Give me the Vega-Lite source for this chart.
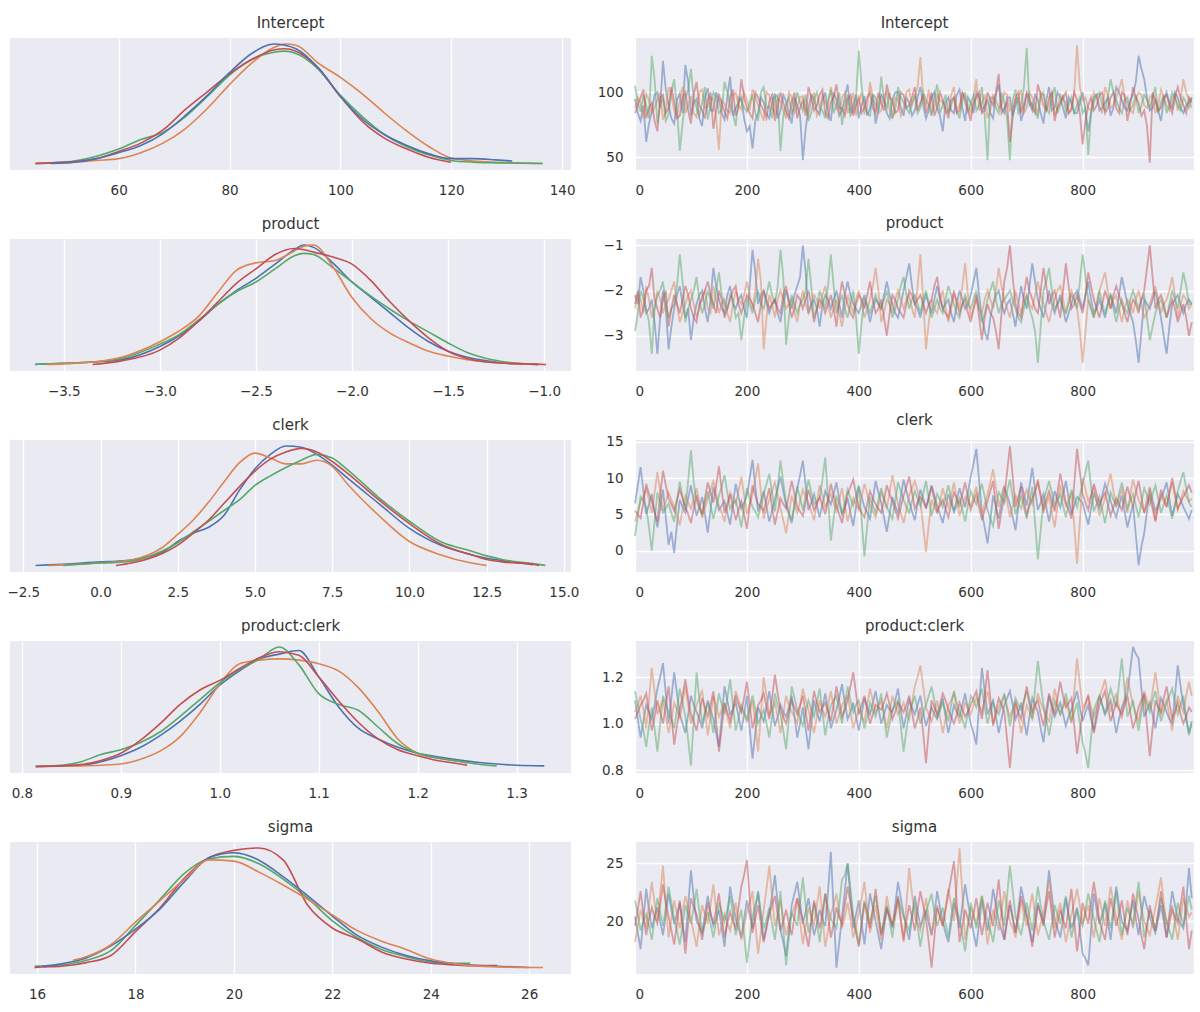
{
  "$schema": "https://vega.github.io/schema/vega-lite/v6.json",
  "background": "white",
  "padding": {"left": 6, "top": 16, "right": 5, "bottom": 5},
  "columns": 2,
  "bounds": "flush",
  "spacing": {"row": 69, "column": 64},
  "datasets": {
    "kde": [
      {"p":"I","x":45,"b":0,"c":0,"d":0},
      {"p":"I","x":47.8,"a":0,"b":0.003,"c":0.005,"d":0.005},
      {"p":"I","x":52,"a":0.01,"b":0.01,"c":0.02,"d":0.015},
      {"p":"I","x":56,"a":0.04,"b":0.025,"c":0.06,"d":0.04},
      {"p":"I","x":60,"a":0.09,"b":0.04,"c":0.12,"d":0.10},
      {"p":"I","x":64,"a":0.15,"b":0.09,"c":0.20,"d":0.17},
      {"p":"I","x":68,"a":0.25,"b":0.17,"c":0.26,"d":0.28},
      {"p":"I","x":72,"a":0.40,"b":0.29,"c":0.39,"d":0.45},
      {"p":"I","x":76,"a":0.57,"b":0.46,"c":0.56,"d":0.60},
      {"p":"I","x":80,"a":0.76,"b":0.66,"c":0.74,"d":0.75},
      {"p":"I","x":84,"a":0.92,"b":0.84,"c":0.87,"d":0.87},
      {"p":"I","x":88,"a":1.0,"b":0.97,"c":0.93,"d":0.95},
      {"p":"I","x":90,"a":0.99,"b":1.0,"c":0.94,"d":0.96},
      {"p":"I","x":92,"a":0.96,"b":0.99,"c":0.92,"d":0.94},
      {"p":"I","x":96,"a":0.80,"b":0.84,"c":0.79,"d":0.80},
      {"p":"I","x":100,"a":0.56,"b":0.72,"c":0.57,"d":0.56},
      {"p":"I","x":104,"a":0.37,"b":0.58,"c":0.39,"d":0.35},
      {"p":"I","x":108,"a":0.24,"b":0.42,"c":0.24,"d":0.21},
      {"p":"I","x":112,"a":0.15,"b":0.27,"c":0.14,"d":0.12},
      {"p":"I","x":116,"a":0.08,"b":0.14,"c":0.07,"d":0.05},
      {"p":"I","x":120,"a":0.04,"b":0.045,"c":0.025,"d":0.01},
      {"p":"I","x":124,"a":0.04,"b":0.02,"c":0.01},
      {"p":"I","x":128,"a":0.03,"b":0.01,"c":0.005},
      {"p":"I","x":131,"a":0.02,"b":0.005,"c":0.003},
      {"p":"I","x":136.5,"b":0,"c":0},
      {"p":"P","x":-3.65,"a":0,"c":0},
      {"p":"P","x":-3.59,"a":0.005,"b":0,"c":0.005},
      {"p":"P","x":-3.5,"a":0.01,"b":0.005,"c":0.01},
      {"p":"P","x":-3.35,"a":0.02,"b":0.02,"c":0.02,"d":0},
      {"p":"P","x":-3.2,"a":0.04,"b":0.06,"c":0.05,"d":0.03},
      {"p":"P","x":-3.0,"a":0.15,"b":0.19,"c":0.17,"d":0.12},
      {"p":"P","x":-2.9,"a":0.24,"b":0.28,"c":0.25,"d":0.22},
      {"p":"P","x":-2.8,"a":0.36,"b":0.40,"c":0.37,"d":0.36},
      {"p":"P","x":-2.7,"a":0.50,"b":0.60,"c":0.50,"d":0.52},
      {"p":"P","x":-2.6,"a":0.62,"b":0.79,"c":0.61,"d":0.68},
      {"p":"P","x":-2.5,"a":0.72,"b":0.85,"c":0.69,"d":0.80},
      {"p":"P","x":-2.4,"a":0.84,"b":0.87,"c":0.80,"d":0.92},
      {"p":"P","x":-2.3,"a":0.96,"b":0.95,"c":0.91,"d":0.97},
      {"p":"P","x":-2.25,"a":1.0,"b":0.99,"c":0.93,"d":0.96},
      {"p":"P","x":-2.2,"a":0.98,"b":1.0,"c":0.92,"d":0.94},
      {"p":"P","x":-2.1,"a":0.85,"b":0.82,"c":0.81,"d":0.90},
      {"p":"P","x":-2.0,"a":0.69,"b":0.56,"c":0.69,"d":0.84},
      {"p":"P","x":-1.9,"a":0.56,"b":0.38,"c":0.57,"d":0.70},
      {"p":"P","x":-1.8,"a":0.43,"b":0.26,"c":0.46,"d":0.52},
      {"p":"P","x":-1.7,"a":0.30,"b":0.18,"c":0.36,"d":0.36},
      {"p":"P","x":-1.6,"a":0.19,"b":0.11,"c":0.27,"d":0.22},
      {"p":"P","x":-1.5,"a":0.11,"b":0.07,"c":0.18,"d":0.11},
      {"p":"P","x":-1.4,"a":0.06,"b":0.04,"c":0.10,"d":0.05},
      {"p":"P","x":-1.3,"a":0.03,"b":0.02,"c":0.05,"d":0.02},
      {"p":"P","x":-1.2,"a":0.01,"b":0.01,"c":0.02,"d":0.01},
      {"p":"P","x":-1.03,"a":0,"b":0,"c":0},
      {"p":"P","x":-0.99,"d":0},
      {"p":"C","x":-2.1,"a":0},
      {"p":"C","x":-1.7,"a":0.005,"b":0},
      {"p":"C","x":-1.2,"a":0.01,"b":0.005,"c":0},
      {"p":"C","x":0,"a":0.03,"b":0.02,"c":0.02},
      {"p":"C","x":0.5,"a":0.035,"b":0.03,"c":0.025,"d":0},
      {"p":"C","x":1,"a":0.045,"b":0.045,"c":0.035,"d":0.02},
      {"p":"C","x":2,"a":0.11,"b":0.15,"c":0.12,"d":0.10},
      {"p":"C","x":2.5,"a":0.20,"b":0.26,"c":0.19,"d":0.17},
      {"p":"C","x":3,"a":0.27,"b":0.38,"c":0.28,"d":0.27},
      {"p":"C","x":3.5,"a":0.32,"b":0.53,"c":0.37,"d":0.38},
      {"p":"C","x":4,"a":0.42,"b":0.70,"c":0.46,"d":0.52},
      {"p":"C","x":4.5,"a":0.63,"b":0.86,"c":0.55,"d":0.66},
      {"p":"C","x":5,"a":0.81,"b":0.94,"c":0.67,"d":0.79},
      {"p":"C","x":5.5,"a":0.93,"b":0.90,"c":0.75,"d":0.89},
      {"p":"C","x":6,"a":1.0,"b":0.85,"c":0.82,"d":0.95},
      {"p":"C","x":6.5,"a":0.99,"b":0.85,"c":0.88,"d":0.98},
      {"p":"C","x":7,"a":0.93,"b":0.88,"c":0.93,"d":0.95},
      {"p":"C","x":7.5,"a":0.84,"b":0.83,"c":0.90,"d":0.87},
      {"p":"C","x":8,"a":0.73,"b":0.68,"c":0.80,"d":0.77},
      {"p":"C","x":9,"a":0.52,"b":0.42,"c":0.57,"d":0.55},
      {"p":"C","x":10,"a":0.31,"b":0.20,"c":0.37,"d":0.35},
      {"p":"C","x":11,"a":0.17,"b":0.09,"c":0.20,"d":0.18},
      {"p":"C","x":12,"a":0.09,"b":0.02,"c":0.12,"d":0.09},
      {"p":"C","x":12.5,"a":0.06,"b":0,"c":0.08,"d":0.05},
      {"p":"C","x":13,"a":0.04,"c":0.05,"d":0.03},
      {"p":"C","x":14,"a":0.005,"c":0.015,"d":0.01},
      {"p":"C","x":14.2,"d":0},
      {"p":"C","x":14.4,"c":0},
      {"p":"PC","x":0.814,"a":0,"b":0,"c":0,"d":0},
      {"p":"PC","x":0.84,"a":0.005,"b":0.003,"c":0.01,"d":0.005},
      {"p":"PC","x":0.86,"a":0.01,"b":0.005,"c":0.04,"d":0.015},
      {"p":"PC","x":0.88,"a":0.04,"b":0.01,"c":0.10,"d":0.05},
      {"p":"PC","x":0.9,"a":0.09,"b":0.02,"c":0.14,"d":0.11},
      {"p":"PC","x":0.92,"a":0.16,"b":0.06,"c":0.20,"d":0.22},
      {"p":"PC","x":0.94,"a":0.26,"b":0.13,"c":0.29,"d":0.36},
      {"p":"PC","x":0.96,"a":0.38,"b":0.25,"c":0.42,"d":0.52},
      {"p":"PC","x":0.98,"a":0.52,"b":0.45,"c":0.56,"d":0.64},
      {"p":"PC","x":1.0,"a":0.68,"b":0.69,"c":0.70,"d":0.72},
      {"p":"PC","x":1.02,"a":0.80,"b":0.86,"c":0.81,"d":0.82},
      {"p":"PC","x":1.04,"a":0.90,"b":0.89,"c":0.90,"d":0.91},
      {"p":"PC","x":1.06,"a":0.94,"b":0.90,"c":1.0,"d":0.96},
      {"p":"PC","x":1.08,"a":0.97,"b":0.89,"c":0.85,"d":0.93},
      {"p":"PC","x":1.1,"a":0.75,"b":0.86,"c":0.61,"d":0.75},
      {"p":"PC","x":1.12,"a":0.50,"b":0.80,"c":0.52,"d":0.55},
      {"p":"PC","x":1.14,"a":0.32,"b":0.66,"c":0.47,"d":0.37},
      {"p":"PC","x":1.16,"a":0.23,"b":0.46,"c":0.33,"d":0.23},
      {"p":"PC","x":1.18,"a":0.16,"b":0.23,"c":0.19,"d":0.14},
      {"p":"PC","x":1.2,"a":0.11,"b":0.11,"c":0.11,"d":0.09},
      {"p":"PC","x":1.22,"a":0.08,"b":0.07,"c":0.07,"d":0.05},
      {"p":"PC","x":1.24,"a":0.055,"b":0.045,"c":0.045,"d":0.025},
      {"p":"PC","x":1.25,"b":0.03,"d":0.01},
      {"p":"PC","x":1.26,"a":0.035,"c":0.02},
      {"p":"PC","x":1.28,"a":0.02,"c":0.003},
      {"p":"PC","x":1.3,"a":0.01},
      {"p":"PC","x":1.328,"a":0.005},
      {"p":"S","x":15.95,"c":0.01,"d":0},
      {"p":"S","x":16.1,"a":0.01,"c":0.012,"d":0.003},
      {"p":"S","x":16.5,"a":0.03,"c":0.02,"d":0.01},
      {"p":"S","x":16.73,"a":0.05,"b":0.06,"c":0.035,"d":0.02},
      {"p":"S","x":17,"a":0.08,"b":0.09,"c":0.06,"d":0.04},
      {"p":"S","x":17.5,"a":0.18,"b":0.19,"c":0.14,"d":0.10},
      {"p":"S","x":18,"a":0.32,"b":0.38,"c":0.35,"d":0.30},
      {"p":"S","x":18.5,"a":0.49,"b":0.56,"c":0.57,"d":0.50},
      {"p":"S","x":19,"a":0.72,"b":0.74,"c":0.79,"d":0.75},
      {"p":"S","x":19.5,"a":0.92,"b":0.90,"c":0.91,"d":0.92},
      {"p":"S","x":20,"a":0.96,"b":0.89,"c":0.93,"d":0.98},
      {"p":"S","x":20.5,"a":0.90,"b":0.80,"c":0.87,"d":1.0},
      {"p":"S","x":21,"a":0.76,"b":0.69,"c":0.74,"d":0.90},
      {"p":"S","x":21.5,"a":0.60,"b":0.57,"c":0.58,"d":0.52},
      {"p":"S","x":22,"a":0.43,"b":0.44,"c":0.39,"d":0.33},
      {"p":"S","x":22.5,"a":0.27,"b":0.31,"c":0.25,"d":0.24},
      {"p":"S","x":23,"a":0.17,"b":0.22,"c":0.15,"d":0.13},
      {"p":"S","x":23.5,"a":0.10,"b":0.15,"c":0.09,"d":0.07},
      {"p":"S","x":24,"a":0.055,"b":0.07,"c":0.045,"d":0.035},
      {"p":"S","x":24.5,"a":0.03,"b":0.03,"c":0.035,"d":0.02},
      {"p":"S","x":24.8,"a":0.02,"b":0.015,"c":0.035,"d":0.015},
      {"p":"S","x":25.35,"a":0.01,"b":0.005,"d":0.015},
      {"p":"S","x":26,"a":0.0,"b":0},
      {"p":"S","x":26.28,"b":0}
    ],
    "trace": [
      {"p":"I","x":0,"a":95,"b":88,"c":105,"d":84},{"p":"I","x":10,"a":78,"b":92,"c":85,"d":96},{"p":"I","x":20,"a":62,"b":99,"c":90,"d":80},{"p":"I","x":30,"a":85,"b":84,"c":128,"d":92},{"p":"I","x":40,"a":100,"b":94,"c":76,"d":70},
      {"p":"I","x":50,"a":124,"b":79,"c":96,"d":98},{"p":"I","x":60,"a":90,"b":104,"c":83,"d":88},{"p":"I","x":70,"a":76,"b":86,"c":110,"d":93},{"p":"I","x":80,"a":99,"b":93,"c":55,"d":82},{"p":"I","x":90,"a":121,"b":84,"c":95,"d":100},
      {"p":"I","x":100,"a":82,"b":97,"c":118,"d":76},{"p":"I","x":110,"a":95,"b":81,"c":88,"d":108},{"p":"I","x":120,"a":74,"b":102,"c":92,"d":86},{"p":"I","x":130,"a":103,"b":89,"c":79,"d":94},{"p":"I","x":140,"a":86,"b":95,"c":100,"d":72},
      {"p":"I","x":150,"a":94,"b":56,"c":84,"d":98},{"p":"I","x":160,"a":79,"b":91,"c":108,"d":85},{"p":"I","x":170,"a":112,"b":84,"c":90,"d":96},{"p":"I","x":180,"a":88,"b":100,"c":74,"d":82},{"p":"I","x":190,"a":96,"b":87,"c":94,"d":110},
      {"p":"I","x":200,"a":70,"b":94,"c":85,"d":88},{"p":"I","x":210,"a":57,"b":102,"c":98,"d":80},{"p":"I","x":220,"a":84,"b":90,"c":78,"d":96},{"p":"I","x":230,"a":92,"b":78,"c":104,"d":86},{"p":"I","x":240,"a":80,"b":98,"c":89,"d":93},
      {"p":"I","x":250,"a":99,"b":84,"c":96,"d":78},{"p":"I","x":260,"a":86,"b":93,"c":55,"d":100},{"p":"I","x":270,"a":93,"b":80,"c":91,"d":85},{"p":"I","x":280,"a":76,"b":96,"c":84,"d":92},{"p":"I","x":290,"a":90,"b":88,"c":100,"d":80},
      {"p":"I","x":300,"a":48,"b":97,"c":86,"d":94},{"p":"I","x":310,"a":88,"b":82,"c":78,"d":104},{"p":"I","x":320,"a":95,"b":100,"c":95,"d":86},{"p":"I","x":330,"a":83,"b":86,"c":88,"d":98},{"p":"I","x":340,"a":100,"b":92,"c":80,"d":84},
      {"p":"I","x":350,"a":78,"b":104,"c":102,"d":92},{"p":"I","x":360,"a":94,"b":88,"c":90,"d":106},{"p":"I","x":370,"a":86,"b":96,"c":75,"d":88},{"p":"I","x":380,"a":106,"b":84,"c":98,"d":94},{"p":"I","x":390,"a":90,"b":100,"c":86,"d":82},
      {"p":"I","x":400,"a":80,"b":92,"c":132,"d":96},{"p":"I","x":410,"a":97,"b":84,"c":90,"d":88},{"p":"I","x":420,"a":88,"b":108,"c":82,"d":100},{"p":"I","x":430,"a":76,"b":90,"c":96,"d":84},{"p":"I","x":440,"a":98,"b":86,"c":112,"d":92},
      {"p":"I","x":450,"a":84,"b":100,"c":88,"d":106},{"p":"I","x":460,"a":94,"b":80,"c":80,"d":94},{"p":"I","x":470,"a":100,"b":94,"c":104,"d":86},{"p":"I","x":480,"a":82,"b":88,"c":92,"d":98},{"p":"I","x":490,"a":92,"b":102,"c":84,"d":90},
      {"p":"I","x":500,"a":86,"b":96,"c":98,"d":104},{"p":"I","x":510,"a":104,"b":127,"c":88,"d":92},{"p":"I","x":520,"a":80,"b":90,"c":94,"d":84},{"p":"I","x":530,"a":96,"b":84,"c":82,"d":100},{"p":"I","x":540,"a":88,"b":98,"c":106,"d":88},
      {"p":"I","x":550,"a":70,"b":92,"c":90,"d":94},{"p":"I","x":560,"a":96,"b":86,"c":84,"d":80},{"p":"I","x":570,"a":84,"b":104,"c":96,"d":96},{"p":"I","x":580,"a":102,"b":90,"c":80,"d":86},{"p":"I","x":590,"a":78,"b":96,"c":100,"d":92},
      {"p":"I","x":600,"a":92,"b":84,"c":92,"d":78},{"p":"I","x":610,"a":100,"b":110,"c":86,"d":96},{"p":"I","x":620,"a":86,"b":92,"c":104,"d":84},{"p":"I","x":630,"a":94,"b":80,"c":48,"d":100},{"p":"I","x":640,"a":80,"b":98,"c":96,"d":90},
      {"p":"I","x":650,"a":106,"b":88,"c":84,"d":114},{"p":"I","x":660,"a":84,"b":100,"c":92,"d":88},{"p":"I","x":670,"a":96,"b":86,"c":48,"d":62},{"p":"I","x":680,"a":90,"b":94,"c":102,"d":96},{"p":"I","x":690,"a":78,"b":102,"c":88,"d":84},
      {"p":"I","x":700,"a":98,"b":88,"c":134,"d":100},{"p":"I","x":710,"a":86,"b":96,"c":92,"d":88},{"p":"I","x":720,"a":94,"b":84,"c":80,"d":106},{"p":"I","x":730,"a":76,"b":100,"c":98,"d":90},{"p":"I","x":740,"a":104,"b":90,"c":84,"d":96},
      {"p":"I","x":750,"a":88,"b":82,"c":104,"d":78},{"p":"I","x":760,"a":96,"b":98,"c":90,"d":92},{"p":"I","x":770,"a":80,"b":92,"c":86,"d":100},{"p":"I","x":780,"a":92,"b":86,"c":96,"d":88},{"p":"I","x":790,"a":84,"b":136,"c":90,"d":94},
      {"p":"I","x":800,"a":100,"b":94,"c":84,"d":60},{"p":"I","x":810,"a":70,"b":88,"c":52,"d":90},{"p":"I","x":820,"a":96,"b":100,"c":92,"d":86},{"p":"I","x":830,"a":86,"b":90,"c":100,"d":98},{"p":"I","x":840,"a":92,"b":104,"c":86,"d":84},
      {"p":"I","x":850,"a":82,"b":88,"c":110,"d":96},{"p":"I","x":860,"a":104,"b":96,"c":94,"d":88},{"p":"I","x":870,"a":94,"b":110,"c":84,"d":100},{"p":"I","x":880,"a":86,"b":92,"c":96,"d":78},{"p":"I","x":890,"a":98,"b":84,"c":90,"d":104},
      {"p":"I","x":900,"a":128,"b":100,"c":84,"d":92},{"p":"I","x":910,"a":110,"b":90,"c":98,"d":86},{"p":"I","x":920,"a":86,"b":96,"c":88,"d":46},{"p":"I","x":930,"a":94,"b":84,"c":104,"d":94},{"p":"I","x":940,"a":78,"b":102,"c":92,"d":88},
      {"p":"I","x":950,"a":100,"b":90,"c":84,"d":98},{"p":"I","x":960,"a":88,"b":96,"c":100,"d":84},{"p":"I","x":970,"a":96,"b":86,"c":90,"d":104},{"p":"I","x":980,"a":84,"b":110,"c":96,"d":90},{"p":"I","x":990,"a":92,"b":94,"c":88,"d":96},
      {"p":"I","x":5,"a":84,"b":96,"c":92,"d":90},{"p":"I","x":15,"a":90,"b":80,"c":98,"d":102},{"p":"I","x":25,"a":76,"b":94,"c":80,"d":88},{"p":"I","x":35,"a":98,"b":88,"c":110,"d":78},{"p":"I","x":45,"a":88,"b":100,"c":90,"d":96},
      {"p":"I","x":55,"a":102,"b":86,"c":78,"d":84},{"p":"I","x":65,"a":80,"b":98,"c":100,"d":104},{"p":"I","x":75,"a":94,"b":82,"c":88,"d":80},{"p":"I","x":85,"a":84,"b":104,"c":76,"d":96},{"p":"I","x":95,"a":108,"b":90,"c":102,"d":86},
      {"p":"I","x":105,"a":92,"b":84,"c":94,"d":98},{"p":"I","x":115,"a":80,"b":100,"c":82,"d":90},{"p":"I","x":125,"a":96,"b":88,"c":104,"d":80},{"p":"I","x":135,"a":86,"b":96,"c":90,"d":100},{"p":"I","x":145,"a":100,"b":80,"c":96,"d":86},
      {"p":"I","x":155,"a":84,"b":94,"c":86,"d":92},{"p":"I","x":165,"a":96,"b":86,"c":100,"d":80},{"p":"I","x":175,"a":82,"b":98,"c":84,"d":102},{"p":"I","x":185,"a":92,"b":90,"c":96,"d":88},{"p":"I","x":195,"a":80,"b":100,"c":88,"d":96},
      {"p":"I","x":205,"a":74,"b":86,"c":92,"d":84},{"p":"I","x":215,"a":78,"b":96,"c":84,"d":100},{"p":"I","x":225,"a":96,"b":84,"c":100,"d":90},{"p":"I","x":235,"a":84,"b":100,"c":88,"d":80},{"p":"I","x":245,"a":92,"b":88,"c":80,"d":98},
      {"p":"I","x":255,"a":80,"b":96,"c":98,"d":88},{"p":"I","x":265,"a":98,"b":86,"c":82,"d":92},{"p":"I","x":275,"a":84,"b":100,"c":96,"d":80},{"p":"I","x":285,"a":96,"b":84,"c":88,"d":100},{"p":"I","x":295,"a":82,"b":96,"c":92,"d":88},
      {"p":"I","x":305,"a":72,"b":88,"c":98,"d":82},{"p":"I","x":315,"a":98,"b":94,"c":84,"d":96},{"p":"I","x":325,"a":86,"b":82,"c":100,"d":90},{"p":"I","x":335,"a":94,"b":98,"c":86,"d":102},{"p":"I","x":345,"a":84,"b":88,"c":94,"d":80},
      {"p":"I","x":355,"a":100,"b":94,"c":84,"d":96},{"p":"I","x":365,"a":82,"b":84,"c":100,"d":88},{"p":"I","x":375,"a":96,"b":100,"c":90,"d":82},{"p":"I","x":385,"a":84,"b":90,"c":82,"d":98},{"p":"I","x":395,"a":98,"b":82,"c":96,"d":90},
      {"p":"I","x":405,"a":90,"b":100,"c":104,"d":84},{"p":"I","x":415,"a":82,"b":88,"c":84,"d":96},{"p":"I","x":425,"a":98,"b":96,"c":98,"d":88},{"p":"I","x":435,"a":86,"b":84,"c":86,"d":100},{"p":"I","x":445,"a":94,"b":98,"c":94,"d":86},
      {"p":"I","x":455,"a":80,"b":86,"c":100,"d":96},{"p":"I","x":465,"a":100,"b":96,"c":86,"d":84},{"p":"I","x":475,"a":88,"b":82,"c":96,"d":100},{"p":"I","x":485,"a":96,"b":100,"c":88,"d":88},{"p":"I","x":495,"a":82,"b":90,"c":92,"d":96},
      {"p":"I","x":505,"a":96,"b":104,"c":84,"d":86},{"p":"I","x":515,"a":90,"b":96,"c":100,"d":98},{"p":"I","x":525,"a":86,"b":102,"c":90,"d":90},{"p":"I","x":535,"a":100,"b":88,"c":96,"d":82},{"p":"I","x":545,"a":82,"b":94,"c":84,"d":100},
      {"p":"I","x":555,"a":92,"b":84,"c":98,"d":88},{"p":"I","x":565,"a":86,"b":98,"c":90,"d":94},{"p":"I","x":575,"a":98,"b":86,"c":86,"d":84},{"p":"I","x":585,"a":88,"b":100,"c":94,"d":100},{"p":"I","x":595,"a":96,"b":90,"c":84,"d":86},
      {"p":"I","x":605,"a":84,"b":96,"c":98,"d":92},{"p":"I","x":615,"a":96,"b":86,"c":90,"d":100},{"p":"I","x":625,"a":90,"b":98,"c":82,"d":86},{"p":"I","x":635,"a":84,"b":86,"c":96,"d":94},{"p":"I","x":645,"a":98,"b":94,"c":88,"d":100},
      {"p":"I","x":655,"a":88,"b":90,"c":100,"d":84},{"p":"I","x":665,"a":96,"b":98,"c":80,"d":92},{"p":"I","x":675,"a":82,"b":88,"c":94,"d":80},{"p":"I","x":685,"a":96,"b":96,"c":84,"d":100},{"p":"I","x":695,"a":86,"b":84,"c":104,"d":90},
      {"p":"I","x":705,"a":92,"b":100,"c":90,"d":96},{"p":"I","x":715,"a":98,"b":90,"c":86,"d":84},{"p":"I","x":725,"a":84,"b":96,"c":100,"d":98},{"p":"I","x":735,"a":94,"b":86,"c":88,"d":86},{"p":"I","x":745,"a":86,"b":100,"c":96,"d":100},
      {"p":"I","x":755,"a":100,"b":88,"c":84,"d":88},{"p":"I","x":765,"a":88,"b":94,"c":98,"d":96},{"p":"I","x":775,"a":96,"b":84,"c":90,"d":84},{"p":"I","x":785,"a":84,"b":100,"c":84,"d":100},{"p":"I","x":795,"a":92,"b":104,"c":96,"d":84},
      {"p":"I","x":805,"a":86,"b":96,"c":88,"d":78},{"p":"I","x":815,"a":84,"b":86,"c":84,"d":96},{"p":"I","x":825,"a":98,"b":96,"c":98,"d":90},{"p":"I","x":835,"a":88,"b":84,"c":90,"d":100},{"p":"I","x":845,"a":96,"b":98,"c":96,"d":88},
      {"p":"I","x":855,"a":88,"b":90,"c":100,"d":100},{"p":"I","x":865,"a":100,"b":102,"c":88,"d":84},{"p":"I","x":875,"a":88,"b":96,"c":94,"d":98},{"p":"I","x":885,"a":94,"b":86,"c":86,"d":90},{"p":"I","x":895,"a":108,"b":94,"c":98,"d":96},
      {"p":"I","x":905,"a":118,"b":98,"c":90,"d":82},{"p":"I","x":915,"a":96,"b":88,"c":94,"d":74},{"p":"I","x":925,"a":88,"b":98,"c":96,"d":100},{"p":"I","x":935,"a":86,"b":90,"c":84,"d":86},{"p":"I","x":945,"a":94,"b":96,"c":98,"d":96},
      {"p":"I","x":955,"a":92,"b":86,"c":90,"d":90},{"p":"I","x":965,"a":100,"b":98,"c":96,"d":96},{"p":"I","x":975,"a":88,"b":94,"c":86,"d":96},{"p":"I","x":985,"a":90,"b":100,"c":92,"d":84},{"p":"I","x":995,"a":96,"b":88,"c":96,"d":92},

      {"p":"P","x":0,"a":-2.1,"b":-2.4,"c":-2.9,"d":-2.3},{"p":"P","x":10,"a":-1.7,"b":-2.2,"c":-2.0,"d":-2.6},{"p":"P","x":20,"a":-2.5,"b":-1.9,"c":-2.4,"d":-2.0},{"p":"P","x":30,"a":-2.2,"b":-2.6,"c":-3.4,"d":-1.5},{"p":"P","x":40,"a":-3.4,"b":-2.0,"c":-2.1,"d":-2.4},
      {"p":"P","x":50,"a":-2.0,"b":-2.5,"c":-1.8,"d":-2.2},{"p":"P","x":60,"a":-3.3,"b":-2.2,"c":-2.6,"d":-2.8},{"p":"P","x":70,"a":-2.4,"b":-1.8,"c":-2.3,"d":-2.1},{"p":"P","x":80,"a":-1.9,"b":-2.7,"c":-1.2,"d":-2.5},{"p":"P","x":90,"a":-2.6,"b":-2.3,"c":-2.7,"d":-1.9},
      {"p":"P","x":100,"a":-3.1,"b":-2.0,"c":-2.2,"d":-2.4},{"p":"P","x":110,"a":-2.3,"b":-2.6,"c":-1.7,"d":-2.7},{"p":"P","x":120,"a":-2.0,"b":-2.1,"c":-2.5,"d":-2.2},{"p":"P","x":130,"a":-2.7,"b":-2.4,"c":-2.0,"d":-1.8},{"p":"P","x":140,"a":-1.5,"b":-1.9,"c":-2.4,"d":-2.3},
      {"p":"P","x":150,"a":-2.2,"b":-2.5,"c":-1.6,"d":-2.0},{"p":"P","x":160,"a":-2.5,"b":-2.2,"c":-2.3,"d":-2.6},{"p":"P","x":170,"a":-1.9,"b":-2.7,"c":-2.1,"d":-2.2},{"p":"P","x":180,"a":-2.4,"b":-2.0,"c":-2.6,"d":-1.9},{"p":"P","x":190,"a":-2.1,"b":-2.3,"c":-3.1,"d":-2.5},
      {"p":"P","x":200,"a":-2.6,"b":-1.8,"c":-2.2,"d":-2.1},{"p":"P","x":210,"a":-1.1,"b":-2.4,"c":-2.5,"d":-2.3},{"p":"P","x":220,"a":-2.3,"b":-1.3,"c":-2.0,"d":-2.7},{"p":"P","x":230,"a":-2.0,"b":-3.3,"c":-2.4,"d":-2.0},{"p":"P","x":240,"a":-2.5,"b":-2.1,"c":-1.8,"d":-2.4},
      {"p":"P","x":250,"a":-2.2,"b":-2.6,"c":-2.3,"d":-2.2},{"p":"P","x":260,"a":-2.7,"b":-2.0,"c":-1.1,"d":-2.5},{"p":"P","x":270,"a":-2.0,"b":-2.4,"c":-3.2,"d":-1.9},{"p":"P","x":280,"a":-2.4,"b":-2.2,"c":-2.1,"d":-2.6},{"p":"P","x":290,"a":-1.9,"b":-2.7,"c":-2.5,"d":-2.1},
      {"p":"P","x":300,"a":-1.0,"b":-2.0,"c":-2.2,"d":-2.4},{"p":"P","x":310,"a":-2.5,"b":-2.5,"c":-1.3,"d":-2.0},{"p":"P","x":320,"a":-2.2,"b":-2.1,"c":-2.6,"d":-2.7},{"p":"P","x":330,"a":-2.8,"b":-2.4,"c":-2.0,"d":-2.2},{"p":"P","x":340,"a":-2.1,"b":-1.9,"c":-2.4,"d":-2.5},
      {"p":"P","x":350,"a":-2.4,"b":-2.6,"c":-1.2,"d":-2.1},{"p":"P","x":360,"a":-2.0,"b":-2.2,"c":-2.5,"d":-2.8},{"p":"P","x":370,"a":-2.6,"b":-2.8,"c":-2.1,"d":-1.8},{"p":"P","x":380,"a":-1.8,"b":-2.1,"c":-2.6,"d":-2.3},{"p":"P","x":390,"a":-2.3,"b":-2.5,"c":-2.0,"d":-2.6},
      {"p":"P","x":400,"a":-2.5,"b":-2.0,"c":-3.4,"d":-2.1},{"p":"P","x":410,"a":-2.1,"b":-2.6,"c":-2.2,"d":-2.4},{"p":"P","x":420,"a":-2.7,"b":-2.2,"c":-2.5,"d":-1.8},{"p":"P","x":430,"a":-2.2,"b":-1.5,"c":-2.1,"d":-2.5},{"p":"P","x":440,"a":-2.4,"b":-2.7,"c":-2.4,"d":-2.2},
      {"p":"P","x":450,"a":-1.8,"b":-2.2,"c":-2.0,"d":-3.0},{"p":"P","x":460,"a":-2.3,"b":-2.5,"c":-2.6,"d":-2.1},{"p":"P","x":470,"a":-2.6,"b":-2.0,"c":-2.2,"d":-2.4},{"p":"P","x":480,"a":-2.0,"b":-2.4,"c":-1.7,"d":-2.6},{"p":"P","x":490,"a":-1.4,"b":-2.1,"c":-2.4,"d":-2.0},
      {"p":"P","x":500,"a":-2.3,"b":-2.6,"c":-2.1,"d":-2.3},{"p":"P","x":510,"a":-2.6,"b":-1.2,"c":-2.5,"d":-2.1},{"p":"P","x":520,"a":-2.1,"b":-3.3,"c":-2.0,"d":-2.5},{"p":"P","x":530,"a":-2.5,"b":-2.2,"c":-2.6,"d":-2.2},{"p":"P","x":540,"a":-1.9,"b":-2.5,"c":-2.2,"d":-1.7},
      {"p":"P","x":550,"a":-2.4,"b":-2.0,"c":-2.5,"d":-2.4},{"p":"P","x":560,"a":-2.2,"b":-2.7,"c":-1.9,"d":-2.6},{"p":"P","x":570,"a":-2.7,"b":-2.1,"c":-2.3,"d":-2.0},{"p":"P","x":580,"a":-2.0,"b":-2.4,"c":-2.6,"d":-2.5},{"p":"P","x":590,"a":-2.4,"b":-1.4,"c":-2.1,"d":-2.2},
      {"p":"P","x":600,"a":-2.1,"b":-2.6,"c":-2.4,"d":-2.7},{"p":"P","x":610,"a":-1.5,"b":-2.2,"c":-2.0,"d":-2.1},{"p":"P","x":620,"a":-2.6,"b":-2.5,"c":-2.7,"d":-3.1},{"p":"P","x":630,"a":-3.1,"b":-2.0,"c":-2.2,"d":-2.3},{"p":"P","x":640,"a":-2.3,"b":-2.4,"c":-1.8,"d":-2.6},
      {"p":"P","x":650,"a":-2.0,"b":-1.5,"c":-2.5,"d":-3.3},{"p":"P","x":660,"a":-2.5,"b":-2.2,"c":-2.2,"d":-1.8},{"p":"P","x":670,"a":-2.2,"b":-2.6,"c":-2.0,"d":-1.0},{"p":"P","x":680,"a":-2.8,"b":-2.0,"c":-2.4,"d":-2.3},{"p":"P","x":690,"a":-1.9,"b":-2.5,"c":-2.7,"d":-2.6},
      {"p":"P","x":700,"a":-2.4,"b":-2.1,"c":-2.1,"d":-1.7},{"p":"P","x":710,"a":-1.4,"b":-2.4,"c":-2.6,"d":-2.2},{"p":"P","x":720,"a":-2.2,"b":-1.8,"c":-3.6,"d":-2.5},{"p":"P","x":730,"a":-2.6,"b":-2.3,"c":-2.0,"d":-1.5},{"p":"P","x":740,"a":-2.0,"b":-2.7,"c":-1.5,"d":-2.3},
      {"p":"P","x":750,"a":-2.5,"b":-2.2,"c":-2.4,"d":-2.0},{"p":"P","x":760,"a":-2.1,"b":-1.9,"c":-2.2,"d":-2.6},{"p":"P","x":770,"a":-2.7,"b":-2.5,"c":-2.5,"d":-1.4},{"p":"P","x":780,"a":-2.3,"b":-2.0,"c":-2.1,"d":-2.4},{"p":"P","x":790,"a":-2.0,"b":-2.4,"c":-2.4,"d":-2.1},
      {"p":"P","x":800,"a":-2.4,"b":-3.6,"c":-1.2,"d":-2.5},{"p":"P","x":810,"a":-1.8,"b":-2.2,"c":-2.2,"d":-1.6},{"p":"P","x":820,"a":-2.5,"b":-2.6,"c":-2.6,"d":-2.2},{"p":"P","x":830,"a":-2.2,"b":-2.0,"c":-2.0,"d":-2.6},{"p":"P","x":840,"a":-2.6,"b":-1.6,"c":-2.5,"d":-2.0},
      {"p":"P","x":850,"a":-2.1,"b":-2.4,"c":-2.1,"d":-2.4},{"p":"P","x":860,"a":-2.5,"b":-2.1,"c":-2.7,"d":-1.9},{"p":"P","x":870,"a":-1.7,"b":-2.7,"c":-2.2,"d":-2.3},{"p":"P","x":880,"a":-2.3,"b":-2.2,"c":-2.5,"d":-2.7},{"p":"P","x":890,"a":-2.7,"b":-2.5,"c":-2.0,"d":-2.2},
      {"p":"P","x":900,"a":-3.6,"b":-2.0,"c":-2.4,"d":-2.5},{"p":"P","x":910,"a":-2.2,"b":-2.6,"c":-2.1,"d":-2.0},{"p":"P","x":920,"a":-2.4,"b":-2.3,"c":-3.1,"d":-1.0},{"p":"P","x":930,"a":-2.0,"b":-1.9,"c":-2.5,"d":-2.4},{"p":"P","x":940,"a":-2.6,"b":-2.5,"c":-2.2,"d":-2.1},
      {"p":"P","x":950,"a":-3.4,"b":-2.2,"c":-2.6,"d":-2.6},{"p":"P","x":960,"a":-2.3,"b":-1.7,"c":-2.0,"d":-2.2},{"p":"P","x":970,"a":-2.1,"b":-2.6,"c":-2.4,"d":-2.7},{"p":"P","x":980,"a":-2.5,"b":-2.1,"c":-1.6,"d":-2.3},{"p":"P","x":990,"a":-2.2,"b":-2.4,"c":-2.3,"d":-3.0},
      {"p":"P","x":5,"a":-2.3,"b":-2.1,"c":-2.5,"d":-2.0},{"p":"P","x":15,"a":-2.0,"b":-2.5,"c":-2.2,"d":-2.4},{"p":"P","x":25,"a":-2.4,"b":-2.2,"c":-2.7,"d":-1.9},{"p":"P","x":35,"a":-2.7,"b":-2.4,"c":-2.4,"d":-2.2},{"p":"P","x":45,"a":-2.6,"b":-2.2,"c":-2.0,"d":-2.6},
      {"p":"P","x":55,"a":-2.4,"b":-2.3,"c":-2.3,"d":-2.0},{"p":"P","x":65,"a":-2.8,"b":-2.0,"c":-2.4,"d":-2.4},{"p":"P","x":75,"a":-2.1,"b":-2.3,"c":-1.9,"d":-2.3},{"p":"P","x":85,"a":-2.3,"b":-2.5,"c":-1.8,"d":-2.2},{"p":"P","x":95,"a":-2.4,"b":-2.1,"c":-2.4,"d":-2.1},
      {"p":"P","x":105,"a":-2.6,"b":-2.3,"c":-2.0,"d":-2.6},{"p":"P","x":115,"a":-2.1,"b":-2.4,"c":-2.2,"d":-2.3},{"p":"P","x":125,"a":-2.4,"b":-2.0,"c":-2.3,"d":-2.0},{"p":"P","x":135,"a":-2.2,"b":-2.5,"c":-2.2,"d":-2.1},{"p":"P","x":145,"a":-1.9,"b":-2.2,"c":-2.0,"d":-2.5},
      {"p":"P","x":155,"a":-2.4,"b":-2.3,"c":-2.1,"d":-2.2},{"p":"P","x":165,"a":-2.1,"b":-2.5,"c":-2.4,"d":-2.4},{"p":"P","x":175,"a":-2.3,"b":-2.3,"c":-2.2,"d":-2.0},{"p":"P","x":185,"a":-2.2,"b":-2.2,"c":-2.5,"d":-2.3},{"p":"P","x":195,"a":-2.4,"b":-2.1,"c":-2.6,"d":-2.3},
      {"p":"P","x":205,"a":-1.9,"b":-2.1,"c":-2.3,"d":-2.2},{"p":"P","x":215,"a":-1.6,"b":-2.0,"c":-2.2,"d":-2.5},{"p":"P","x":225,"a":-2.1,"b":-1.8,"c":-2.3,"d":-2.3},{"p":"P","x":235,"a":-2.3,"b":-2.6,"c":-2.1,"d":-2.2},{"p":"P","x":245,"a":-2.3,"b":-2.3,"c":-2.1,"d":-2.3},
      {"p":"P","x":255,"a":-2.5,"b":-2.2,"c":-1.9,"d":-2.4},{"p":"P","x":265,"a":-2.3,"b":-2.2,"c":-1.7,"d":-2.1},{"p":"P","x":275,"a":-2.2,"b":-2.3,"c":-2.6,"d":-2.3},{"p":"P","x":285,"a":-2.1,"b":-2.5,"c":-2.3,"d":-2.4},{"p":"P","x":295,"a":-1.7,"b":-2.3,"c":-2.3,"d":-2.2},
      {"p":"P","x":305,"a":-1.6,"b":-2.3,"c":-2.0,"d":-2.2},{"p":"P","x":315,"a":-2.3,"b":-2.3,"c":-1.9,"d":-2.3},{"p":"P","x":325,"a":-2.4,"b":-2.2,"c":-2.4,"d":-2.4},{"p":"P","x":335,"a":-2.3,"b":-2.1,"c":-2.2,"d":-2.3},{"p":"P","x":345,"a":-2.2,"b":-2.3,"c":-1.9,"d":-2.3},
      {"p":"P","x":355,"a":-2.2,"b":-2.4,"c":-1.9,"d":-2.4},{"p":"P","x":365,"a":-2.3,"b":-2.5,"c":-2.3,"d":-2.2},{"p":"P","x":375,"a":-2.1,"b":-2.4,"c":-2.4,"d":-2.1},{"p":"P","x":385,"a":-2.1,"b":-2.3,"c":-2.3,"d":-2.5},{"p":"P","x":395,"a":-2.4,"b":-2.2,"c":-2.6,"d":-2.3},
      {"p":"P","x":405,"a":-2.3,"b":-2.3,"c":-2.7,"d":-2.2},{"p":"P","x":415,"a":-2.4,"b":-2.4,"c":-2.3,"d":-2.1},{"p":"P","x":425,"a":-2.4,"b":-1.9,"c":-2.3,"d":-2.2},{"p":"P","x":435,"a":-2.3,"b":-2.0,"c":-2.3,"d":-2.4},{"p":"P","x":445,"a":-2.1,"b":-2.5,"c":-2.2,"d":-2.6},
      {"p":"P","x":455,"a":-2.1,"b":-2.3,"c":-2.3,"d":-2.5},{"p":"P","x":465,"a":-2.5,"b":-2.2,"c":-2.4,"d":-2.2},{"p":"P","x":475,"a":-2.3,"b":-2.2,"c":-1.9,"d":-2.5},{"p":"P","x":485,"a":-1.7,"b":-2.2,"c":-2.1,"d":-2.3},{"p":"P","x":495,"a":-1.9,"b":-2.4,"c":-2.2,"d":-2.1},
      {"p":"P","x":505,"a":-2.4,"b":-1.9,"c":-2.3,"d":-2.2},{"p":"P","x":515,"a":-2.3,"b":-2.2,"c":-2.2,"d":-2.3},{"p":"P","x":525,"a":-2.3,"b":-2.7,"c":-2.3,"d":-2.3},{"p":"P","x":535,"a":-2.2,"b":-2.4,"c":-2.4,"d":-1.9},{"p":"P","x":545,"a":-2.2,"b":-2.2,"c":-2.4,"d":-2.1},
      {"p":"P","x":555,"a":-2.3,"b":-2.4,"c":-2.2,"d":-2.5},{"p":"P","x":565,"a":-2.5,"b":-2.4,"c":-2.1,"d":-2.3},{"p":"P","x":575,"a":-2.3,"b":-2.2,"c":-2.5,"d":-2.3},{"p":"P","x":585,"a":-2.2,"b":-1.9,"c":-2.3,"d":-2.3},{"p":"P","x":595,"a":-2.3,"b":-2.1,"c":-2.3,"d":-2.5},
      {"p":"P","x":605,"a":-1.8,"b":-2.4,"c":-2.2,"d":-2.4},{"p":"P","x":615,"a":-2.1,"b":-2.4,"c":-2.4,"d":-2.6},{"p":"P","x":625,"a":-2.9,"b":-2.2,"c":-2.5,"d":-2.6},{"p":"P","x":635,"a":-2.6,"b":-2.2,"c":-2.0,"d":-2.5},{"p":"P","x":645,"a":-2.1,"b":-2.0,"c":-2.2,"d":-2.9},
      {"p":"P","x":655,"a":-2.3,"b":-1.9,"c":-2.3,"d":-2.5},{"p":"P","x":665,"a":-2.3,"b":-2.4,"c":-2.1,"d":-1.5},{"p":"P","x":675,"a":-2.5,"b":-2.3,"c":-2.2,"d":-1.7},{"p":"P","x":685,"a":-2.3,"b":-2.3,"c":-2.6,"d":-2.5},{"p":"P","x":695,"a":-2.2,"b":-2.3,"c":-2.4,"d":-2.1},
      {"p":"P","x":705,"a":-1.9,"b":-2.3,"c":-2.4,"d":-2.0},{"p":"P","x":715,"a":-1.8,"b":-2.1,"c":-2.9,"d":-2.4},{"p":"P","x":725,"a":-2.4,"b":-2.1,"c":-2.8,"d":-2.0},{"p":"P","x":735,"a":-2.3,"b":-2.5,"c":-1.8,"d":-1.9},{"p":"P","x":745,"a":-2.3,"b":-2.4,"c":-2.0,"d":-2.1},
      {"p":"P","x":755,"a":-2.3,"b":-2.0,"c":-2.3,"d":-2.3},{"p":"P","x":765,"a":-2.4,"b":-2.2,"c":-2.4,"d":-2.0},{"p":"P","x":775,"a":-2.5,"b":-2.2,"c":-2.3,"d":-1.9},{"p":"P","x":785,"a":-2.1,"b":-2.2,"c":-2.2,"d":-2.3},{"p":"P","x":795,"a":-2.2,"b":-2.9,"c":-1.8,"d":-2.3},
      {"p":"P","x":805,"a":-2.1,"b":-2.9,"c":-1.7,"d":-2.1},{"p":"P","x":815,"a":-2.2,"b":-2.4,"c":-2.4,"d":-1.9},{"p":"P","x":825,"a":-2.4,"b":-2.3,"c":-2.3,"d":-2.4},{"p":"P","x":835,"a":-2.4,"b":-1.8,"c":-2.3,"d":-2.3},{"p":"P","x":845,"a":-2.3,"b":-2.0,"c":-2.3,"d":-2.2},
      {"p":"P","x":855,"a":-2.3,"b":-2.2,"c":-2.4,"d":-2.1},{"p":"P","x":865,"a":-2.1,"b":-2.4,"c":-2.4,"d":-2.1},{"p":"P","x":875,"a":-2.0,"b":-2.4,"c":-2.4,"d":-2.5},{"p":"P","x":885,"a":-2.5,"b":-2.3,"c":-2.2,"d":-2.4},{"p":"P","x":895,"a":-3.1,"b":-2.2,"c":-2.2,"d":-2.3},
      {"p":"P","x":905,"a":-2.9,"b":-2.3,"c":-2.2,"d":-2.2},{"p":"P","x":915,"a":-2.3,"b":-2.5,"c":-2.6,"d":-1.5},{"p":"P","x":925,"a":-2.2,"b":-2.1,"c":-2.8,"d":-1.7},{"p":"P","x":935,"a":-2.3,"b":-2.2,"c":-2.3,"d":-2.2},{"p":"P","x":945,"a":-3.0,"b":-2.3,"c":-2.4,"d":-2.3},
      {"p":"P","x":955,"a":-2.8,"b":-2.0,"c":-2.3,"d":-2.4},{"p":"P","x":965,"a":-2.2,"b":-2.1,"c":-2.2,"d":-2.4},{"p":"P","x":975,"a":-2.3,"b":-2.3,"c":-2.0,"d":-2.5},{"p":"P","x":985,"a":-2.3,"b":-2.2,"c":-1.9,"d":-2.6},{"p":"P","x":995,"a":-2.3,"b":-2.3,"c":-2.3,"d":-2.7},

      {"p":"C","x":0,"a":6.5,"b":4.0,"c":2.0,"d":5.5},{"p":"C","x":10,"a":11.5,"b":6.8,"c":7.4,"d":4.5},{"p":"C","x":20,"a":5.0,"b":8.5,"c":6.0,"d":9.2},{"p":"C","x":30,"a":7.8,"b":5.2,"c":0.0,"d":6.8},{"p":"C","x":40,"a":3.2,"b":10.8,"c":8.0,"d":4.0},
      {"p":"C","x":50,"a":8.4,"b":5.5,"c":5.2,"d":11.0},{"p":"C","x":60,"a":0.8,"b":8.0,"c":6.5,"d":7.2},{"p":"C","x":70,"a":-0.3,"b":6.0,"c":4.0,"d":5.5},{"p":"C","x":80,"a":7.0,"b":3.5,"c":9.5,"d":8.4},{"p":"C","x":90,"a":5.2,"b":7.6,"c":5.6,"d":6.0},
      {"p":"C","x":100,"a":9.0,"b":5.8,"c":13.8,"d":3.8},{"p":"C","x":110,"a":4.8,"b":8.6,"c":6.8,"d":7.6},{"p":"C","x":120,"a":7.4,"b":4.5,"c":5.0,"d":5.0},{"p":"C","x":130,"a":2.5,"b":7.2,"c":8.2,"d":9.4},{"p":"C","x":140,"a":8.8,"b":9.6,"c":4.4,"d":6.6},
      {"p":"C","x":150,"a":5.6,"b":6.2,"c":7.6,"d":11.6},{"p":"C","x":160,"a":6.8,"b":4.0,"c":10.4,"d":5.2},{"p":"C","x":170,"a":3.6,"b":8.0,"c":5.8,"d":7.8},{"p":"C","x":180,"a":9.2,"b":6.4,"c":7.0,"d":4.2},{"p":"C","x":190,"a":5.8,"b":10.2,"c":3.2,"d":6.8},
      {"p":"C","x":200,"a":7.6,"b":5.0,"c":8.6,"d":3.0},{"p":"C","x":210,"a":12.5,"b":7.8,"c":6.0,"d":9.0},{"p":"C","x":220,"a":5.4,"b":12.0,"c":4.6,"d":6.4},{"p":"C","x":230,"a":8.2,"b":4.4,"c":7.8,"d":5.4},{"p":"C","x":240,"a":4.0,"b":7.0,"c":10.6,"d":8.6},
      {"p":"C","x":250,"a":7.0,"b":9.4,"c":5.4,"d":3.6},{"p":"C","x":260,"a":10.2,"b":5.8,"c":12.4,"d":7.2},{"p":"C","x":270,"a":6.2,"b":2.4,"c":6.6,"d":5.8},{"p":"C","x":280,"a":3.8,"b":7.6,"c":4.2,"d":9.6},{"p":"C","x":290,"a":8.6,"b":5.2,"c":8.8,"d":6.0},
      {"p":"C","x":300,"a":12.4,"b":8.4,"c":5.6,"d":4.8},{"p":"C","x":310,"a":5.6,"b":6.6,"c":9.8,"d":8.4},{"p":"C","x":320,"a":7.8,"b":4.2,"c":6.4,"d":5.6},{"p":"C","x":330,"a":4.6,"b":9.0,"c":7.2,"d":7.4},{"p":"C","x":340,"a":8.2,"b":6.0,"c":12.8,"d":5.0},
      {"p":"C","x":350,"a":6.4,"b":7.8,"c":1.4,"d":9.2},{"p":"C","x":360,"a":9.4,"b":5.4,"c":7.6,"d":6.2},{"p":"C","x":370,"a":5.0,"b":8.6,"c":5.0,"d":3.8},{"p":"C","x":380,"a":7.2,"b":4.0,"c":8.4,"d":7.8},{"p":"C","x":390,"a":3.4,"b":7.2,"c":6.2,"d":9.8},
      {"p":"C","x":400,"a":8.8,"b":5.6,"c":9.0,"d":6.0},{"p":"C","x":410,"a":6.0,"b":9.2,"c":-0.8,"d":4.6},{"p":"C","x":420,"a":4.4,"b":6.2,"c":7.4,"d":8.2},{"p":"C","x":430,"a":9.6,"b":4.6,"c":5.2,"d":6.4},{"p":"C","x":440,"a":6.6,"b":8.0,"c":8.6,"d":5.2},
      {"p":"C","x":450,"a":2.6,"b":5.8,"c":6.0,"d":9.0},{"p":"C","x":460,"a":7.4,"b":10.4,"c":4.4,"d":6.8},{"p":"C","x":470,"a":5.2,"b":6.4,"c":9.4,"d":4.4},{"p":"C","x":480,"a":9.8,"b":3.8,"c":7.0,"d":7.6},{"p":"C","x":490,"a":6.8,"b":7.6,"c":5.2,"d":10.2},
      {"p":"C","x":500,"a":4.2,"b":9.6,"c":8.2,"d":5.8},{"p":"C","x":510,"a":8.4,"b":6.8,"c":6.2,"d":7.4},{"p":"C","x":520,"a":5.8,"b":-0.2,"c":9.6,"d":6.0},{"p":"C","x":530,"a":9.0,"b":7.0,"c":4.8,"d":8.8},{"p":"C","x":540,"a":6.2,"b":5.2,"c":7.8,"d":5.4},
      {"p":"C","x":550,"a":3.8,"b":8.6,"c":6.0,"d":7.0},{"p":"C","x":560,"a":7.8,"b":6.0,"c":9.0,"d":4.6},{"p":"C","x":570,"a":5.4,"b":9.4,"c":5.4,"d":8.0},{"p":"C","x":580,"a":8.6,"b":4.8,"c":7.2,"d":6.2},{"p":"C","x":590,"a":6.0,"b":7.4,"c":4.0,"d":9.4},
      {"p":"C","x":600,"a":10.2,"b":6.2,"c":8.2,"d":5.6},{"p":"C","x":610,"a":14.0,"b":8.8,"c":6.4,"d":7.8},{"p":"C","x":620,"a":5.2,"b":5.0,"c":9.2,"d":4.2},{"p":"C","x":630,"a":1.0,"b":7.8,"c":5.6,"d":6.8},{"p":"C","x":640,"a":7.6,"b":11.2,"c":3.4,"d":9.6},
      {"p":"C","x":650,"a":4.4,"b":6.0,"c":8.0,"d":3.0},{"p":"C","x":660,"a":8.8,"b":9.0,"c":6.6,"d":7.4},{"p":"C","x":670,"a":6.4,"b":4.6,"c":9.8,"d":14.4},{"p":"C","x":680,"a":2.8,"b":7.6,"c":5.0,"d":6.0},{"p":"C","x":690,"a":9.4,"b":5.8,"c":7.6,"d":8.8},
      {"p":"C","x":700,"a":6.2,"b":8.4,"c":4.4,"d":5.0},{"p":"C","x":710,"a":11.4,"b":6.4,"c":8.8,"d":7.2},{"p":"C","x":720,"a":5.6,"b":9.8,"c":-1.2,"d":9.4},{"p":"C","x":730,"a":7.8,"b":5.2,"c":6.8,"d":5.8},{"p":"C","x":740,"a":4.0,"b":7.4,"c":9.6,"d":8.2},
      {"p":"C","x":750,"a":8.2,"b":3.2,"c":6.2,"d":5.4},{"p":"C","x":760,"a":6.0,"b":9.0,"c":7.8,"d":10.6},{"p":"C","x":770,"a":9.6,"b":6.2,"c":4.6,"d":6.6},{"p":"C","x":780,"a":5.0,"b":8.0,"c":8.4,"d":4.4},{"p":"C","x":790,"a":7.4,"b":-1.8,"c":6.0,"d":14.0},
      {"p":"C","x":800,"a":6.6,"b":10.0,"c":9.2,"d":7.8},{"p":"C","x":810,"a":3.6,"b":6.8,"c":12.4,"d":5.6},{"p":"C","x":820,"a":8.0,"b":8.6,"c":5.4,"d":9.2},{"p":"C","x":830,"a":5.8,"b":4.8,"c":7.4,"d":6.4},{"p":"C","x":840,"a":9.2,"b":7.2,"c":3.8,"d":8.0},
      {"p":"C","x":850,"a":6.8,"b":10.6,"c":8.0,"d":4.8},{"p":"C","x":860,"a":4.6,"b":6.0,"c":6.2,"d":7.2},{"p":"C","x":870,"a":7.6,"b":8.4,"c":9.4,"d":5.6},{"p":"C","x":880,"a":3.2,"b":5.2,"c":5.8,"d":8.8},{"p":"C","x":890,"a":6.4,"b":9.8,"c":7.8,"d":6.2},
      {"p":"C","x":900,"a":-2.0,"b":7.0,"c":4.6,"d":9.6},{"p":"C","x":910,"a":2.4,"b":5.4,"c":8.6,"d":5.2},{"p":"C","x":920,"a":8.6,"b":8.8,"c":6.4,"d":7.6},{"p":"C","x":930,"a":5.4,"b":4.2,"c":9.0,"d":4.0},{"p":"C","x":940,"a":7.2,"b":7.6,"c":5.2,"d":8.4},
      {"p":"C","x":950,"a":9.4,"b":6.2,"c":7.6,"d":6.0},{"p":"C","x":960,"a":4.8,"b":9.4,"c":4.4,"d":10.0},{"p":"C","x":970,"a":7.8,"b":5.6,"c":8.2,"d":5.8},{"p":"C","x":980,"a":6.0,"b":8.2,"c":10.8,"d":7.4},{"p":"C","x":990,"a":4.4,"b":6.8,"c":6.6,"d":9.0},
      {"p":"C","x":5,"a":9.0,"b":5.4,"c":4.8,"d":5.0},{"p":"C","x":15,"a":8.2,"b":7.6,"c":6.8,"d":6.6},{"p":"C","x":25,"a":6.4,"b":7.0,"c":3.2,"d":7.8},{"p":"C","x":35,"a":5.4,"b":8.0,"c":4.0,"d":5.4},{"p":"C","x":45,"a":5.8,"b":8.2,"c":6.6,"d":7.6},
      {"p":"C","x":55,"a":4.6,"b":6.8,"c":5.8,"d":9.0},{"p":"C","x":65,"a":2.6,"b":7.0,"c":5.2,"d":6.4},{"p":"C","x":75,"a":3.6,"b":4.8,"c":6.8,"d":7.0},{"p":"C","x":85,"a":6.0,"b":5.6,"c":7.4,"d":7.2},{"p":"C","x":95,"a":7.2,"b":6.6,"c":9.6,"d":5.0},
      {"p":"C","x":105,"a":6.8,"b":7.2,"c":9.4,"d":5.8},{"p":"C","x":115,"a":6.0,"b":6.6,"c":5.8,"d":6.2},{"p":"C","x":125,"a":5.0,"b":5.8,"c":6.6,"d":7.2},{"p":"C","x":135,"a":5.6,"b":8.4,"c":6.2,"d":8.0},{"p":"C","x":145,"a":7.2,"b":7.8,"c":6.0,"d":9.0},
      {"p":"C","x":155,"a":6.2,"b":5.2,"c":8.8,"d":8.4},{"p":"C","x":165,"a":5.2,"b":6.0,"c":8.0,"d":6.4},{"p":"C","x":175,"a":6.4,"b":7.2,"c":6.4,"d":6.0},{"p":"C","x":185,"a":7.4,"b":8.2,"c":5.2,"d":5.6},{"p":"C","x":195,"a":6.6,"b":7.6,"c":6.0,"d":5.0},
      {"p":"C","x":205,"a":10.0,"b":6.4,"c":7.2,"d":6.2},{"p":"C","x":215,"a":8.8,"b":9.8,"c":5.4,"d":7.6},{"p":"C","x":225,"a":6.8,"b":8.0,"c":6.2,"d":6.0},{"p":"C","x":235,"a":6.0,"b":5.8,"c":9.2,"d":7.0},{"p":"C","x":245,"a":5.6,"b":8.2,"c":8.0,"d":6.0},
      {"p":"C","x":255,"a":8.6,"b":7.6,"c":8.8,"d":5.4},{"p":"C","x":265,"a":8.2,"b":4.2,"c":9.4,"d":6.4},{"p":"C","x":275,"a":5.0,"b":5.0,"c":5.4,"d":7.6},{"p":"C","x":285,"a":6.2,"b":6.4,"c":6.4,"d":7.8},{"p":"C","x":295,"a":10.4,"b":6.8,"c":7.2,"d":5.4},
      {"p":"C","x":305,"a":9.0,"b":7.4,"c":7.6,"d":6.6},{"p":"C","x":315,"a":6.6,"b":5.4,"c":8.0,"d":7.0},{"p":"C","x":325,"a":6.2,"b":6.6,"c":6.8,"d":6.4},{"p":"C","x":335,"a":6.4,"b":7.6,"c":9.8,"d":6.2},{"p":"C","x":345,"a":7.2,"b":7.0,"c":7.2,"d":7.0},
      {"p":"C","x":355,"a":7.8,"b":6.6,"c":4.4,"d":7.6},{"p":"C","x":365,"a":7.2,"b":7.0,"c":6.4,"d":5.0},{"p":"C","x":375,"a":6.0,"b":6.2,"c":6.6,"d":5.8},{"p":"C","x":385,"a":5.2,"b":5.6,"c":7.2,"d":8.8},{"p":"C","x":395,"a":6.0,"b":6.4,"c":7.6,"d":7.8},
      {"p":"C","x":405,"a":7.4,"b":7.4,"c":4.2,"d":5.2},{"p":"C","x":415,"a":5.2,"b":7.8,"c":3.4,"d":6.4},{"p":"C","x":425,"a":7.0,"b":5.4,"c":6.2,"d":7.2},{"p":"C","x":435,"a":8.0,"b":6.2,"c":7.0,"d":5.8},{"p":"C","x":445,"a":4.6,"b":7.0,"c":7.2,"d":7.0},
      {"p":"C","x":455,"a":5.0,"b":8.0,"c":5.2,"d":7.8},{"p":"C","x":465,"a":6.2,"b":8.4,"c":6.8,"d":5.6},{"p":"C","x":475,"a":7.4,"b":5.2,"c":8.2,"d":6.0},{"p":"C","x":485,"a":8.2,"b":5.6,"c":6.0,"d":8.8},{"p":"C","x":495,"a":5.4,"b":8.6,"c":6.8,"d":8.0},
      {"p":"C","x":505,"a":6.4,"b":8.2,"c":7.2,"d":6.6},{"p":"C","x":515,"a":7.2,"b":3.4,"c":7.8,"d":6.8},{"p":"C","x":525,"a":7.4,"b":3.6,"c":7.2,"d":7.2},{"p":"C","x":535,"a":7.6,"b":6.0,"c":6.2,"d":7.0},{"p":"C","x":545,"a":5.0,"b":6.8,"c":7.0,"d":6.2},
      {"p":"C","x":555,"a":5.8,"b":7.2,"c":7.4,"d":5.8},{"p":"C","x":565,"a":6.6,"b":7.6,"c":7.2,"d":6.4},{"p":"C","x":575,"a":7.0,"b":7.0,"c":6.2,"d":7.2},{"p":"C","x":585,"a":7.2,"b":6.0,"c":5.6,"d":7.8},{"p":"C","x":595,"a":8.0,"b":6.8,"c":6.2,"d":7.4},
      {"p":"C","x":605,"a":12.0,"b":7.4,"c":7.2,"d":6.8},{"p":"C","x":615,"a":9.6,"b":6.8,"c":7.8,"d":6.0},{"p":"C","x":625,"a":3.2,"b":6.4,"c":7.4,"d":5.6},{"p":"C","x":635,"a":4.2,"b":9.4,"c":4.4,"d":8.2},{"p":"C","x":645,"a":6.0,"b":8.6,"c":5.8,"d":6.2},
      {"p":"C","x":655,"a":6.6,"b":7.6,"c":7.4,"d":5.4},{"p":"C","x":665,"a":7.6,"b":6.8,"c":8.2,"d":10.8},{"p":"C","x":675,"a":4.6,"b":6.2,"c":7.4,"d":10.2},{"p":"C","x":685,"a":6.0,"b":6.6,"c":6.2,"d":7.4},{"p":"C","x":695,"a":7.8,"b":7.2,"c":6.0,"d":6.8},
      {"p":"C","x":705,"a":8.8,"b":7.4,"c":6.6,"d":6.2},{"p":"C","x":715,"a":8.4,"b":8.2,"c":3.8,"d":8.2},{"p":"C","x":725,"a":6.6,"b":7.4,"c":2.8,"d":7.6},{"p":"C","x":735,"a":6.0,"b":6.4,"c":8.2,"d":7.0},{"p":"C","x":745,"a":6.2,"b":5.2,"c":8.0,"d":6.8},
      {"p":"C","x":755,"a":7.0,"b":6.2,"c":7.0,"d":8.0},{"p":"C","x":765,"a":7.8,"b":7.6,"c":6.2,"d":8.6},{"p":"C","x":775,"a":7.2,"b":7.0,"c":6.4,"d":5.6},{"p":"C","x":785,"a":6.2,"b":3.4,"c":7.2,"d":9.2},{"p":"C","x":795,"a":7.0,"b":4.0,"c":7.6,"d":10.8},
      {"p":"C","x":805,"a":5.0,"b":8.4,"c":10.8,"d":6.6},{"p":"C","x":815,"a":5.8,"b":7.6,"c":8.8,"d":7.4},{"p":"C","x":825,"a":6.8,"b":6.8,"c":6.4,"d":7.8},{"p":"C","x":835,"a":7.6,"b":6.0,"c":5.6,"d":7.2},{"p":"C","x":845,"a":8.0,"b":9.0,"c":6.0,"d":6.4},
      {"p":"C","x":855,"a":5.6,"b":8.2,"c":7.0,"d":6.0},{"p":"C","x":865,"a":6.2,"b":7.2,"c":7.8,"d":6.4},{"p":"C","x":875,"a":5.4,"b":6.8,"c":7.6,"d":7.2},{"p":"C","x":885,"a":4.8,"b":7.6,"c":6.8,"d":7.4},{"p":"C","x":895,"a":2.2,"b":8.4,"c":6.2,"d":8.0},
      {"p":"C","x":905,"a":0.6,"b":6.2,"c":6.6,"d":7.4},{"p":"C","x":915,"a":5.4,"b":7.2,"c":7.6,"d":6.4},{"p":"C","x":925,"a":7.0,"b":6.4,"c":7.8,"d":5.8},{"p":"C","x":935,"a":6.4,"b":6.0,"c":7.2,"d":6.2},{"p":"C","x":945,"a":8.2,"b":6.8,"c":6.4,"d":7.2},
      {"p":"C","x":955,"a":7.2,"b":7.8,"c":6.0,"d":8.0},{"p":"C","x":965,"a":6.2,"b":7.4,"c":6.4,"d":8.0},{"p":"C","x":975,"a":7.0,"b":6.8,"c":9.6,"d":6.6},{"p":"C","x":985,"a":5.2,"b":7.4,"c":8.6,"d":8.2},{"p":"C","x":995,"a":5.6,"b":7.2,"c":6.0,"d":8.0},

      {"p":"PC","x":0,"a":1.10,"b":1.05,"c":1.14,"d":1.02},{"p":"PC","x":10,"a":0.94,"b":1.12,"c":1.02,"d":1.08},{"p":"PC","x":20,"a":1.08,"b":0.98,"c":0.90,"d":1.13},{"p":"PC","x":30,"a":1.02,"b":1.24,"c":1.07,"d":0.97},{"p":"PC","x":40,"a":1.15,"b":1.04,"c":0.88,"d":1.10},
      {"p":"PC","x":50,"a":1.26,"b":1.10,"c":1.12,"d":1.00},{"p":"PC","x":60,"a":1.00,"b":0.96,"c":1.05,"d":1.16},{"p":"PC","x":70,"a":1.22,"b":1.09,"c":0.98,"d":0.91},{"p":"PC","x":80,"a":1.04,"b":1.02,"c":1.15,"d":1.06},{"p":"PC","x":90,"a":0.96,"b":1.16,"c":1.03,"d":1.19},
      {"p":"PC","x":100,"a":1.12,"b":1.00,"c":0.82,"d":1.04},{"p":"PC","x":110,"a":1.05,"b":1.08,"c":1.22,"d":0.97},{"p":"PC","x":120,"a":0.98,"b":1.14,"c":1.00,"d":1.11},{"p":"PC","x":130,"a":1.10,"b":0.95,"c":1.09,"d":1.03},{"p":"PC","x":140,"a":1.02,"b":1.12,"c":0.96,"d":1.14},
      {"p":"PC","x":150,"a":0.90,"b":1.03,"c":1.13,"d":0.88},{"p":"PC","x":160,"a":1.16,"b":1.08,"c":1.04,"d":1.09},{"p":"PC","x":170,"a":1.04,"b":0.98,"c":1.19,"d":1.01},{"p":"PC","x":180,"a":1.09,"b":1.14,"c":0.97,"d":1.12},{"p":"PC","x":190,"a":0.97,"b":1.06,"c":1.08,"d":1.05},
      {"p":"PC","x":200,"a":1.12,"b":1.01,"c":1.02,"d":1.18},{"p":"PC","x":210,"a":0.85,"b":1.10,"c":1.12,"d":0.98},{"p":"PC","x":220,"a":1.07,"b":0.88,"c":1.00,"d":1.08},{"p":"PC","x":230,"a":1.01,"b":1.20,"c":1.06,"d":1.13},{"p":"PC","x":240,"a":1.14,"b":1.04,"c":0.94,"d":1.02},
      {"p":"PC","x":250,"a":0.99,"b":1.09,"c":1.13,"d":1.21},{"p":"PC","x":260,"a":1.08,"b":0.96,"c":1.04,"d":1.06},{"p":"PC","x":270,"a":1.03,"b":1.12,"c":0.89,"d":1.00},{"p":"PC","x":280,"a":1.12,"b":1.05,"c":1.16,"d":1.10},{"p":"PC","x":290,"a":0.94,"b":1.00,"c":1.06,"d":1.04},
      {"p":"PC","x":300,"a":1.07,"b":1.15,"c":0.99,"d":1.12},{"p":"PC","x":310,"a":0.89,"b":1.06,"c":1.10,"d":0.97},{"p":"PC","x":320,"a":1.10,"b":0.96,"c":1.03,"d":1.14},{"p":"PC","x":330,"a":1.01,"b":1.10,"c":1.15,"d":1.05},{"p":"PC","x":340,"a":1.13,"b":1.03,"c":0.95,"d":1.09},
      {"p":"PC","x":350,"a":0.98,"b":1.14,"c":1.08,"d":1.01},{"p":"PC","x":360,"a":1.06,"b":1.00,"c":1.12,"d":1.16},{"p":"PC","x":370,"a":1.17,"b":1.08,"c":1.00,"d":1.03},{"p":"PC","x":380,"a":1.02,"b":1.12,"c":1.16,"d":1.10},{"p":"PC","x":390,"a":1.09,"b":0.98,"c":1.05,"d":1.22},
      {"p":"PC","x":400,"a":0.97,"b":1.06,"c":1.10,"d":1.04},{"p":"PC","x":410,"a":1.11,"b":1.01,"c":0.98,"d":1.12},{"p":"PC","x":420,"a":1.04,"b":1.15,"c":1.09,"d":1.00},{"p":"PC","x":430,"a":1.14,"b":1.05,"c":1.03,"d":1.08},{"p":"PC","x":440,"a":1.00,"b":1.10,"c":1.13,"d":1.06},
      {"p":"PC","x":450,"a":1.08,"b":0.98,"c":0.94,"d":1.13},{"p":"PC","x":460,"a":1.05,"b":1.12,"c":1.06,"d":1.02},{"p":"PC","x":470,"a":1.15,"b":1.04,"c":1.10,"d":1.09},{"p":"PC","x":480,"a":0.98,"b":1.09,"c":0.88,"d":1.05},{"p":"PC","x":490,"a":1.10,"b":1.02,"c":1.05,"d":1.12},
      {"p":"PC","x":500,"a":1.04,"b":1.16,"c":1.12,"d":0.98},{"p":"PC","x":510,"a":1.12,"b":1.25,"c":1.00,"d":1.07},{"p":"PC","x":520,"a":0.99,"b":1.07,"c":1.08,"d":0.83},{"p":"PC","x":530,"a":1.07,"b":1.01,"c":1.16,"d":1.10},{"p":"PC","x":540,"a":1.02,"b":1.10,"c":1.03,"d":1.04},
      {"p":"PC","x":550,"a":1.11,"b":0.96,"c":1.09,"d":1.13},{"p":"PC","x":560,"a":0.96,"b":1.08,"c":1.01,"d":1.06},{"p":"PC","x":570,"a":1.08,"b":1.13,"c":1.14,"d":1.00},{"p":"PC","x":580,"a":1.03,"b":1.00,"c":1.05,"d":1.09},{"p":"PC","x":590,"a":1.13,"b":1.09,"c":0.98,"d":1.03},
      {"p":"PC","x":600,"a":1.00,"b":1.04,"c":1.12,"d":1.08},{"p":"PC","x":610,"a":0.91,"b":1.11,"c":1.07,"d":1.14},{"p":"PC","x":620,"a":1.24,"b":1.05,"c":1.15,"d":1.02},{"p":"PC","x":630,"a":1.04,"b":1.14,"c":1.00,"d":1.23},{"p":"PC","x":640,"a":1.10,"b":1.00,"c":1.09,"d":0.99},
      {"p":"PC","x":650,"a":0.96,"b":1.07,"c":1.04,"d":1.11},{"p":"PC","x":660,"a":1.08,"b":1.12,"c":1.13,"d":1.05},{"p":"PC","x":670,"a":1.14,"b":1.03,"c":0.99,"d":0.81},{"p":"PC","x":680,"a":1.02,"b":1.10,"c":1.11,"d":1.09},{"p":"PC","x":690,"a":1.09,"b":0.96,"c":1.06,"d":1.02},
      {"p":"PC","x":700,"a":0.95,"b":1.08,"c":1.14,"d":1.16},{"p":"PC","x":710,"a":1.11,"b":1.02,"c":1.02,"d":1.05},{"p":"PC","x":720,"a":1.05,"b":1.13,"c":1.27,"d":1.10},{"p":"PC","x":730,"a":0.92,"b":1.06,"c":1.08,"d":0.99},{"p":"PC","x":740,"a":1.12,"b":1.01,"c":0.95,"d":1.13},
      {"p":"PC","x":750,"a":1.03,"b":1.15,"c":1.10,"d":1.04},{"p":"PC","x":760,"a":1.09,"b":1.04,"c":1.04,"d":1.18},{"p":"PC","x":770,"a":0.99,"b":1.10,"c":1.13,"d":1.07},{"p":"PC","x":780,"a":1.06,"b":1.00,"c":1.01,"d":1.11},{"p":"PC","x":790,"a":1.14,"b":1.28,"c":1.09,"d":0.87},
      {"p":"PC","x":800,"a":1.01,"b":1.07,"c":0.92,"d":1.05},{"p":"PC","x":810,"a":1.08,"b":1.12,"c":0.81,"d":1.12},{"p":"PC","x":820,"a":0.97,"b":1.03,"c":1.06,"d":0.96},{"p":"PC","x":830,"a":1.12,"b":1.11,"c":1.12,"d":1.08},{"p":"PC","x":840,"a":1.04,"b":1.19,"c":1.04,"d":1.14},
      {"p":"PC","x":850,"a":1.10,"b":1.05,"c":1.15,"d":1.01},{"p":"PC","x":860,"a":0.96,"b":1.13,"c":1.07,"d":1.09},{"p":"PC","x":870,"a":1.07,"b":1.02,"c":1.28,"d":1.04},{"p":"PC","x":880,"a":1.13,"b":1.20,"c":1.03,"d":1.12},{"p":"PC","x":890,"a":1.33,"b":1.08,"c":1.10,"d":0.98},
      {"p":"PC","x":900,"a":1.28,"b":1.01,"c":0.97,"d":1.07},{"p":"PC","x":910,"a":1.03,"b":1.14,"c":1.12,"d":1.13},{"p":"PC","x":920,"a":1.09,"b":1.06,"c":1.05,"d":0.86},{"p":"PC","x":930,"a":0.98,"b":1.22,"c":1.14,"d":1.10},{"p":"PC","x":940,"a":1.11,"b":1.04,"c":1.01,"d":1.05},
      {"p":"PC","x":950,"a":1.05,"b":1.10,"c":1.09,"d":1.16},{"p":"PC","x":960,"a":1.00,"b":0.97,"c":1.15,"d":1.02},{"p":"PC","x":970,"a":1.25,"b":1.12,"c":1.04,"d":1.09},{"p":"PC","x":980,"a":1.08,"b":1.05,"c":1.12,"d":1.00},{"p":"PC","x":990,"a":0.96,"b":1.18,"c":0.95,"d":1.07},
      {"p":"PC","x":5,"a":1.02,"b":1.08,"c":1.08,"d":1.05},{"p":"PC","x":15,"a":1.01,"b":1.06,"c":0.97,"d":1.10},{"p":"PC","x":25,"a":1.05,"b":1.10,"c":0.99,"d":1.05},{"p":"PC","x":35,"a":1.08,"b":1.14,"c":0.98,"d":1.03},{"p":"PC","x":45,"a":1.20,"b":1.07,"c":1.00,"d":1.05},
      {"p":"PC","x":55,"a":1.13,"b":1.03,"c":1.08,"d":1.08},{"p":"PC","x":65,"a":1.11,"b":1.02,"c":1.02,"d":1.04},{"p":"PC","x":75,"a":1.13,"b":1.06,"c":1.06,"d":0.99},{"p":"PC","x":85,"a":1.00,"b":1.09,"c":1.09,"d":1.12},{"p":"PC","x":95,"a":1.04,"b":1.08,"c":0.93,"d":1.11},
      {"p":"PC","x":105,"a":1.08,"b":1.04,"c":1.02,"d":1.01},{"p":"PC","x":115,"a":1.02,"b":1.11,"c":1.11,"d":1.04},{"p":"PC","x":125,"a":1.04,"b":1.05,"c":1.05,"d":1.07},{"p":"PC","x":135,"a":1.06,"b":1.03,"c":1.03,"d":1.08},{"p":"PC","x":145,"a":0.96,"b":1.08,"c":1.05,"d":1.01},
      {"p":"PC","x":155,"a":1.03,"b":1.06,"c":1.08,"d":0.98},{"p":"PC","x":165,"a":1.10,"b":1.03,"c":1.11,"d":1.05},{"p":"PC","x":175,"a":1.06,"b":1.06,"c":1.08,"d":1.06},{"p":"PC","x":185,"a":1.03,"b":1.10,"c":1.02,"d":1.08},{"p":"PC","x":195,"a":1.04,"b":1.04,"c":1.05,"d":1.11},
      {"p":"PC","x":205,"a":0.98,"b":1.05,"c":1.07,"d":1.08},{"p":"PC","x":215,"a":0.96,"b":1.00,"c":1.06,"d":1.03},{"p":"PC","x":225,"a":1.04,"b":1.04,"c":1.03,"d":1.10},{"p":"PC","x":235,"a":1.07,"b":1.12,"c":1.00,"d":1.07},{"p":"PC","x":245,"a":1.06,"b":1.06,"c":1.03,"d":1.11},
      {"p":"PC","x":255,"a":1.03,"b":1.03,"c":1.08,"d":1.13},{"p":"PC","x":265,"a":1.05,"b":1.04,"c":0.97,"d":1.03},{"p":"PC","x":275,"a":1.07,"b":1.08,"c":1.02,"d":1.05},{"p":"PC","x":285,"a":1.03,"b":1.03,"c":1.11,"d":1.07},{"p":"PC","x":295,"a":1.00,"b":1.07,"c":1.02,"d":1.08},
      {"p":"PC","x":305,"a":0.98,"b":1.10,"c":1.05,"d":1.05},{"p":"PC","x":315,"a":1.00,"b":1.01,"c":1.06,"d":1.05},{"p":"PC","x":325,"a":1.05,"b":1.03,"c":1.09,"d":1.09},{"p":"PC","x":335,"a":1.07,"b":1.06,"c":1.05,"d":1.07},{"p":"PC","x":345,"a":1.06,"b":1.08,"c":1.02,"d":1.05},
      {"p":"PC","x":355,"a":1.02,"b":1.07,"c":1.10,"d":1.08},{"p":"PC","x":365,"a":1.11,"b":1.04,"c":1.06,"d":1.10},{"p":"PC","x":375,"a":1.09,"b":1.10,"c":1.08,"d":1.06},{"p":"PC","x":385,"a":1.05,"b":1.05,"c":1.10,"d":1.16},{"p":"PC","x":395,"a":1.03,"b":1.02,"c":1.08,"d":1.13},
      {"p":"PC","x":405,"a":1.04,"b":1.03,"c":1.04,"d":1.08},{"p":"PC","x":415,"a":1.07,"b":1.08,"c":1.03,"d":1.06},{"p":"PC","x":425,"a":1.09,"b":1.10,"c":1.06,"d":1.04},{"p":"PC","x":435,"a":1.07,"b":1.07,"c":1.08,"d":1.07},{"p":"PC","x":445,"a":1.04,"b":1.04,"c":1.03,"d":1.09},
      {"p":"PC","x":455,"a":1.06,"b":1.05,"c":1.00,"d":1.08},{"p":"PC","x":465,"a":1.10,"b":1.08,"c":1.08,"d":1.05},{"p":"PC","x":475,"a":1.06,"b":1.06,"c":0.99,"d":1.07},{"p":"PC","x":485,"a":1.04,"b":1.05,"c":0.97,"d":1.08},{"p":"PC","x":495,"a":1.07,"b":1.09,"c":1.08,"d":1.05},
      {"p":"PC","x":505,"a":1.08,"b":1.20,"c":1.06,"d":1.02},{"p":"PC","x":515,"a":1.05,"b":1.16,"c":1.04,"d":0.96},{"p":"PC","x":525,"a":1.03,"b":1.04,"c":1.12,"d":0.97},{"p":"PC","x":535,"a":1.04,"b":1.05,"c":1.10,"d":1.07},{"p":"PC","x":545,"a":1.06,"b":1.03,"c":1.06,"d":1.08},
      {"p":"PC","x":555,"a":1.03,"b":1.02,"c":1.05,"d":1.10},{"p":"PC","x":565,"a":1.02,"b":1.10,"c":1.08,"d":1.03},{"p":"PC","x":575,"a":1.05,"b":1.06,"c":1.09,"d":1.04},{"p":"PC","x":585,"a":1.08,"b":1.04,"c":1.02,"d":1.06},{"p":"PC","x":595,"a":1.06,"b":1.07,"c":1.05,"d":1.05},
      {"p":"PC","x":605,"a":0.96,"b":1.08,"c":1.10,"d":1.11},{"p":"PC","x":615,"a":1.08,"b":1.08,"c":1.11,"d":1.08},{"p":"PC","x":625,"a":1.14,"b":1.10,"c":1.07,"d":1.12},{"p":"PC","x":635,"a":1.07,"b":1.07,"c":1.05,"d":1.11},{"p":"PC","x":645,"a":1.03,"b":1.04,"c":1.06,"d":1.05},
      {"p":"PC","x":655,"a":1.02,"b":1.10,"c":1.08,"d":1.08},{"p":"PC","x":665,"a":1.11,"b":1.07,"c":1.06,"d":0.93},{"p":"PC","x":675,"a":1.08,"b":1.06,"c":1.05,"d":0.95},{"p":"PC","x":685,"a":1.05,"b":1.03,"c":1.08,"d":1.05},{"p":"PC","x":695,"a":1.02,"b":1.02,"c":1.10,"d":1.09},
      {"p":"PC","x":705,"a":1.03,"b":1.05,"c":1.08,"d":1.10},{"p":"PC","x":715,"a":1.08,"b":1.07,"c":1.15,"d":1.08},{"p":"PC","x":725,"a":0.98,"b":1.09,"c":1.17,"d":1.04},{"p":"PC","x":735,"a":1.02,"b":1.03,"c":1.02,"d":1.06},{"p":"PC","x":745,"a":1.07,"b":1.08,"c":1.02,"d":1.08},
      {"p":"PC","x":755,"a":1.06,"b":1.09,"c":1.07,"d":1.11},{"p":"PC","x":765,"a":1.04,"b":1.07,"c":1.08,"d":1.12},{"p":"PC","x":775,"a":1.03,"b":1.05,"c":1.07,"d":1.09},{"p":"PC","x":785,"a":1.10,"b":1.14,"c":1.05,"d":0.99},{"p":"PC","x":795,"a":1.07,"b":1.17,"c":1.00,"d":0.96},
      {"p":"PC","x":805,"a":1.05,"b":1.09,"c":0.87,"d":1.08},{"p":"PC","x":815,"a":1.02,"b":1.07,"c":0.94,"d":1.04},{"p":"PC","x":825,"a":1.05,"b":1.07,"c":1.09,"d":1.02},{"p":"PC","x":835,"a":1.08,"b":1.15,"c":1.08,"d":1.11},{"p":"PC","x":845,"a":1.07,"b":1.12,"c":1.10,"d":1.07},
      {"p":"PC","x":855,"a":1.03,"b":1.09,"c":1.11,"d":1.05},{"p":"PC","x":865,"a":1.02,"b":1.07,"c":1.17,"d":1.06},{"p":"PC","x":875,"a":1.10,"b":1.11,"c":1.15,"d":1.08},{"p":"PC","x":885,"a":1.23,"b":1.14,"c":1.06,"d":1.05},{"p":"PC","x":895,"a":1.30,"b":1.04,"c":1.03,"d":1.02},
      {"p":"PC","x":905,"a":1.15,"b":1.08,"c":1.05,"d":1.10},{"p":"PC","x":915,"a":1.06,"b":1.10,"c":1.08,"d":0.99},{"p":"PC","x":925,"a":1.04,"b":1.14,"c":1.10,"d":0.98},{"p":"PC","x":935,"a":1.05,"b":1.13,"c":1.07,"d":1.07},{"p":"PC","x":945,"a":1.08,"b":1.07,"c":1.05,"d":1.11},
      {"p":"PC","x":955,"a":1.02,"b":1.03,"c":1.12,"d":1.09},{"p":"PC","x":965,"a":1.12,"b":1.05,"c":1.09,"d":1.05},{"p":"PC","x":975,"a":1.16,"b":1.08,"c":1.08,"d":1.04},{"p":"PC","x":985,"a":1.02,"b":1.12,"c":1.03,"d":1.03},{"p":"PC","x":995,"a":1.01,"b":1.12,"c":1.00,"d":1.05},

      {"p":"S","x":0,"a":20.4,"b":18.2,"c":21.8,"d":19.6},{"p":"S","x":10,"a":17.6,"b":21.0,"c":19.2,"d":22.6},{"p":"S","x":20,"a":22.8,"b":19.6,"c":20.6,"d":18.8},{"p":"S","x":30,"a":19.4,"b":23.4,"c":18.4,"d":21.2},{"p":"S","x":40,"a":21.2,"b":20.0,"c":22.0,"d":19.8},
      {"p":"S","x":50,"a":18.8,"b":24.8,"c":19.6,"d":23.2},{"p":"S","x":60,"a":22.4,"b":18.6,"c":23.0,"d":20.4},{"p":"S","x":70,"a":19.8,"b":21.8,"c":20.2,"d":18.0},{"p":"S","x":80,"a":21.6,"b":19.4,"c":18.0,"d":21.8},{"p":"S","x":90,"a":18.2,"b":22.2,"c":21.4,"d":17.2},
      {"p":"S","x":100,"a":24.4,"b":20.2,"c":19.8,"d":22.0},{"p":"S","x":110,"a":20.0,"b":17.8,"c":22.8,"d":20.6},{"p":"S","x":120,"a":19.0,"b":21.4,"c":19.0,"d":18.4},{"p":"S","x":130,"a":22.2,"b":19.8,"c":20.8,"d":21.6},{"p":"S","x":140,"a":19.6,"b":23.2,"c":18.6,"d":19.8},
      {"p":"S","x":150,"a":21.0,"b":18.8,"c":21.6,"d":22.4},{"p":"S","x":160,"a":17.8,"b":20.6,"c":20.0,"d":18.6},{"p":"S","x":170,"a":23.0,"b":19.2,"c":22.2,"d":20.8},{"p":"S","x":180,"a":20.2,"b":21.6,"c":18.8,"d":19.4},{"p":"S","x":190,"a":18.6,"b":18.4,"c":21.0,"d":23.0},
      {"p":"S","x":200,"a":21.8,"b":20.8,"c":16.4,"d":25.3},{"p":"S","x":210,"a":19.4,"b":22.6,"c":20.4,"d":19.0},{"p":"S","x":220,"a":22.6,"b":17.2,"c":22.4,"d":21.4},{"p":"S","x":230,"a":18.4,"b":21.0,"c":19.4,"d":18.2},{"p":"S","x":240,"a":20.8,"b":24.8,"c":21.2,"d":20.6},
      {"p":"S","x":250,"a":24.0,"b":19.6,"c":18.4,"d":22.2},{"p":"S","x":260,"a":19.2,"b":21.8,"c":22.6,"d":19.2},{"p":"S","x":270,"a":17.0,"b":18.8,"c":16.2,"d":21.0},{"p":"S","x":280,"a":21.4,"b":20.6,"c":20.8,"d":18.8},{"p":"S","x":290,"a":23.4,"b":22.0,"c":19.6,"d":22.0},
      {"p":"S","x":300,"a":19.8,"b":18.0,"c":23.8,"d":20.0},{"p":"S","x":310,"a":22.0,"b":21.2,"c":19.0,"d":17.8},{"p":"S","x":320,"a":18.8,"b":19.8,"c":21.6,"d":21.8},{"p":"S","x":330,"a":21.0,"b":23.0,"c":18.2,"d":19.4},{"p":"S","x":340,"a":19.6,"b":17.8,"c":22.4,"d":22.4},
      {"p":"S","x":350,"a":26.0,"b":20.6,"c":20.2,"d":18.6},{"p":"S","x":360,"a":16.0,"b":22.4,"c":19.4,"d":21.2},{"p":"S","x":370,"a":20.4,"b":19.4,"c":23.6,"d":19.8},{"p":"S","x":380,"a":25.0,"b":21.6,"c":25.0,"d":23.0},{"p":"S","x":390,"a":19.4,"b":18.6,"c":20.6,"d":20.2},
      {"p":"S","x":400,"a":21.8,"b":20.8,"c":18.0,"d":17.8},{"p":"S","x":410,"a":18.0,"b":23.4,"c":21.8,"d":21.6},{"p":"S","x":420,"a":22.4,"b":19.0,"c":19.8,"d":19.4},{"p":"S","x":430,"a":20.0,"b":21.4,"c":22.2,"d":22.8},{"p":"S","x":440,"a":17.6,"b":18.4,"c":19.0,"d":18.8},
      {"p":"S","x":450,"a":21.2,"b":22.2,"c":21.4,"d":21.0},{"p":"S","x":460,"a":19.4,"b":19.6,"c":18.6,"d":19.6},{"p":"S","x":470,"a":23.4,"b":21.8,"c":22.0,"d":22.2},{"p":"S","x":480,"a":20.6,"b":18.2,"c":20.4,"d":18.4},{"p":"S","x":490,"a":18.4,"b":24.6,"c":19.2,"d":21.4},
      {"p":"S","x":500,"a":22.2,"b":20.4,"c":21.6,"d":19.2},{"p":"S","x":510,"a":19.6,"b":19.2,"c":17.8,"d":22.6},{"p":"S","x":520,"a":21.0,"b":22.0,"c":20.8,"d":20.2},{"p":"S","x":530,"a":18.8,"b":18.8,"c":22.4,"d":16.0},{"p":"S","x":540,"a":22.6,"b":21.4,"c":19.6,"d":21.2},
      {"p":"S","x":550,"a":20.0,"b":19.6,"c":21.2,"d":19.6},{"p":"S","x":560,"a":18.2,"b":22.8,"c":18.6,"d":22.4},{"p":"S","x":570,"a":21.6,"b":20.0,"c":22.0,"d":25.2},{"p":"S","x":580,"a":19.4,"b":26.3,"c":20.2,"d":18.2},{"p":"S","x":590,"a":23.2,"b":18.4,"c":17.4,"d":21.0},
      {"p":"S","x":600,"a":20.4,"b":21.2,"c":21.6,"d":19.4},{"p":"S","x":610,"a":17.8,"b":19.8,"c":19.4,"d":22.0},{"p":"S","x":620,"a":21.8,"b":22.2,"c":22.2,"d":18.8},{"p":"S","x":630,"a":19.2,"b":18.0,"c":20.0,"d":21.6},{"p":"S","x":640,"a":22.8,"b":21.0,"c":18.2,"d":19.6},
      {"p":"S","x":650,"a":20.0,"b":19.2,"c":21.8,"d":23.6},{"p":"S","x":660,"a":18.4,"b":22.6,"c":19.6,"d":18.4},{"p":"S","x":670,"a":21.4,"b":20.0,"c":24.8,"d":21.8},{"p":"S","x":680,"a":19.0,"b":18.6,"c":20.4,"d":19.0},{"p":"S","x":690,"a":23.0,"b":21.8,"c":18.8,"d":22.2},
      {"p":"S","x":700,"a":20.6,"b":19.6,"c":21.6,"d":20.4},{"p":"S","x":710,"a":18.2,"b":22.4,"c":19.2,"d":17.8},{"p":"S","x":720,"a":21.6,"b":18.8,"c":23.0,"d":21.4},{"p":"S","x":730,"a":19.6,"b":20.8,"c":20.0,"d":19.8},{"p":"S","x":740,"a":24.4,"b":23.6,"c":18.4,"d":22.6},
      {"p":"S","x":750,"a":20.2,"b":19.4,"c":21.4,"d":18.6},{"p":"S","x":760,"a":18.6,"b":21.6,"c":19.8,"d":21.0},{"p":"S","x":770,"a":22.0,"b":18.2,"c":22.2,"d":19.4},{"p":"S","x":780,"a":19.4,"b":20.6,"c":18.6,"d":22.8},{"p":"S","x":790,"a":21.2,"b":22.8,"c":21.0,"d":17.4},
      {"p":"S","x":800,"a":17.2,"b":19.8,"c":19.6,"d":21.6},{"p":"S","x":810,"a":16.2,"b":21.4,"c":22.4,"d":19.8},{"p":"S","x":820,"a":22.4,"b":18.6,"c":20.2,"d":23.4},{"p":"S","x":830,"a":19.8,"b":22.0,"c":18.2,"d":20.0},{"p":"S","x":840,"a":21.6,"b":19.6,"c":21.8,"d":18.4},
      {"p":"S","x":850,"a":18.4,"b":23.0,"c":19.4,"d":22.0},{"p":"S","x":860,"a":23.0,"b":20.4,"c":22.6,"d":19.6},{"p":"S","x":870,"a":20.0,"b":18.4,"c":18.8,"d":21.8},{"p":"S","x":880,"a":19.2,"b":21.8,"c":21.2,"d":18.8},{"p":"S","x":890,"a":21.8,"b":19.4,"c":19.8,"d":22.4},
      {"p":"S","x":900,"a":18.8,"b":22.6,"c":23.4,"d":20.2},{"p":"S","x":910,"a":22.2,"b":20.0,"c":18.6,"d":17.6},{"p":"S","x":920,"a":20.4,"b":18.8,"c":21.0,"d":21.4},{"p":"S","x":930,"a":19.0,"b":21.2,"c":19.2,"d":19.2},{"p":"S","x":940,"a":21.4,"b":23.8,"c":22.0,"d":22.6},
      {"p":"S","x":950,"a":18.6,"b":19.6,"c":20.0,"d":18.6},{"p":"S","x":960,"a":22.6,"b":21.4,"c":18.4,"d":21.0},{"p":"S","x":970,"a":20.2,"b":18.4,"c":21.6,"d":19.8},{"p":"S","x":980,"a":19.4,"b":22.0,"c":19.6,"d":23.0},{"p":"S","x":990,"a":24.6,"b":20.4,"c":22.2,"d":17.6},
      {"p":"S","x":5,"a":19.0,"b":19.6,"c":20.6,"d":21.0},{"p":"S","x":15,"a":20.2,"b":20.2,"c":20.0,"d":20.6},{"p":"S","x":25,"a":21.0,"b":21.4,"c":19.6,"d":20.2},{"p":"S","x":35,"a":20.4,"b":21.6,"c":20.2,"d":20.4},{"p":"S","x":45,"a":20.0,"b":22.4,"c":20.8,"d":21.4},
      {"p":"S","x":55,"a":20.6,"b":21.4,"c":21.2,"d":21.6},{"p":"S","x":65,"a":21.0,"b":20.2,"c":21.6,"d":19.2},{"p":"S","x":75,"a":20.6,"b":20.6,"c":19.2,"d":19.8},{"p":"S","x":85,"a":19.8,"b":20.8,"c":19.6,"d":19.6},{"p":"S","x":95,"a":21.4,"b":21.2,"c":20.6,"d":19.8},
      {"p":"S","x":105,"a":22.0,"b":19.0,"c":21.2,"d":21.2},{"p":"S","x":115,"a":19.6,"b":19.6,"c":20.8,"d":19.6},{"p":"S","x":125,"a":20.6,"b":20.6,"c":19.8,"d":20.0},{"p":"S","x":135,"a":20.8,"b":21.4,"c":19.8,"d":20.6},{"p":"S","x":145,"a":20.2,"b":21.0,"c":20.0,"d":21.0},
      {"p":"S","x":155,"a":19.4,"b":19.6,"c":20.8,"d":20.4},{"p":"S","x":165,"a":20.4,"b":19.8,"c":21.0,"d":19.8},{"p":"S","x":175,"a":21.6,"b":20.4,"c":20.6,"d":20.0},{"p":"S","x":185,"a":19.4,"b":20.0,"c":20.0,"d":21.2},{"p":"S","x":195,"a":20.2,"b":19.6,"c":18.8,"d":24.0},
      {"p":"S","x":205,"a":20.6,"b":21.6,"c":18.4,"d":22.0},{"p":"S","x":215,"a":21.0,"b":19.8,"c":21.4,"d":20.2},{"p":"S","x":225,"a":20.4,"b":19.0,"c":20.8,"d":19.8},{"p":"S","x":235,"a":19.6,"b":22.8,"c":20.2,"d":19.4},{"p":"S","x":245,"a":22.2,"b":22.0,"c":19.8,"d":21.4},
      {"p":"S","x":255,"a":21.6,"b":20.6,"c":20.4,"d":20.6},{"p":"S","x":265,"a":18.2,"b":20.2,"c":19.4,"d":20.0},{"p":"S","x":275,"a":19.2,"b":19.8,"c":18.6,"d":19.8},{"p":"S","x":285,"a":22.4,"b":21.2,"c":20.2,"d":20.4},{"p":"S","x":295,"a":21.6,"b":20.0,"c":21.6,"d":21.0},
      {"p":"S","x":305,"a":20.8,"b":19.6,"c":21.4,"d":19.0},{"p":"S","x":315,"a":20.4,"b":20.4,"c":20.2,"d":19.8},{"p":"S","x":325,"a":19.8,"b":21.4,"c":20.0,"d":20.6},{"p":"S","x":335,"a":20.2,"b":20.4,"c":20.2,"d":20.8},{"p":"S","x":345,"a":22.6,"b":19.2,"c":21.2,"d":20.4},
      {"p":"S","x":355,"a":21.0,"b":21.4,"c":19.8,"d":19.8},{"p":"S","x":365,"a":18.2,"b":20.8,"c":21.4,"d":20.4},{"p":"S","x":375,"a":22.6,"b":20.4,"c":24.0,"d":21.4},{"p":"S","x":385,"a":22.2,"b":20.2,"c":22.8,"d":21.6},{"p":"S","x":395,"a":20.6,"b":19.6,"c":19.4,"d":19.0},
      {"p":"S","x":405,"a":19.8,"b":22.0,"c":20.0,"d":19.6},{"p":"S","x":415,"a":20.2,"b":21.2,"c":20.8,"d":20.4},{"p":"S","x":425,"a":21.2,"b":20.2,"c":21.0,"d":21.0},{"p":"S","x":435,"a":18.8,"b":19.8,"c":20.6,"d":20.8},{"p":"S","x":445,"a":19.4,"b":20.2,"c":20.2,"d":19.8},
      {"p":"S","x":455,"a":20.4,"b":20.8,"c":20.0,"d":20.4},{"p":"S","x":465,"a":21.4,"b":20.6,"c":20.4,"d":20.8},{"p":"S","x":475,"a":22.0,"b":20.0,"c":21.2,"d":20.2},{"p":"S","x":485,"a":19.4,"b":21.4,"c":19.8,"d":20.0},{"p":"S","x":495,"a":20.4,"b":22.4,"c":20.4,"d":20.4},
      {"p":"S","x":505,"a":20.8,"b":19.8,"c":19.6,"d":21.0},{"p":"S","x":515,"a":20.2,"b":20.6,"c":19.4,"d":21.4},{"p":"S","x":525,"a":19.8,"b":20.4,"c":21.6,"d":18.2},{"p":"S","x":535,"a":20.6,"b":20.0,"c":20.8,"d":18.6},{"p":"S","x":545,"a":21.2,"b":20.4,"c":20.4,"d":20.4},
      {"p":"S","x":555,"a":19.0,"b":21.2,"c":19.8,"d":21.0},{"p":"S","x":565,"a":19.8,"b":21.4,"c":20.4,"d":23.8},{"p":"S","x":575,"a":20.6,"b":23.2,"c":21.0,"d":21.6},{"p":"S","x":585,"a":21.4,"b":22.4,"c":18.8,"d":19.6},{"p":"S","x":595,"a":21.6,"b":19.8,"c":19.6,"d":20.2},
      {"p":"S","x":605,"a":19.0,"b":20.4,"c":20.6,"d":20.6},{"p":"S","x":615,"a":19.8,"b":21.0,"c":20.8,"d":20.4},{"p":"S","x":625,"a":20.4,"b":20.2,"c":21.0,"d":20.2},{"p":"S","x":635,"a":20.8,"b":19.6,"c":19.2,"d":20.6},{"p":"S","x":645,"a":21.4,"b":20.2,"c":20.0,"d":21.6},
      {"p":"S","x":655,"a":19.2,"b":20.8,"c":20.8,"d":21.0},{"p":"S","x":665,"a":20.0,"b":21.2,"c":22.2,"d":20.2},{"p":"S","x":675,"a":20.2,"b":19.4,"c":22.6,"d":20.4},{"p":"S","x":685,"a":21.0,"b":20.2,"c":19.6,"d":20.6},{"p":"S","x":695,"a":21.8,"b":20.6,"c":20.2,"d":21.2},
      {"p":"S","x":705,"a":19.4,"b":21.0,"c":20.4,"d":19.2},{"p":"S","x":715,"a":19.8,"b":20.6,"c":21.0,"d":19.6},{"p":"S","x":725,"a":20.6,"b":19.8,"c":21.4,"d":20.6},{"p":"S","x":735,"a":22.0,"b":22.0,"c":19.2,"d":21.2},{"p":"S","x":745,"a":22.2,"b":21.4,"c":19.8,"d":20.6},
      {"p":"S","x":755,"a":19.4,"b":20.6,"c":20.6,"d":19.8},{"p":"S","x":765,"a":20.2,"b":19.8,"c":21.0,"d":20.2},{"p":"S","x":775,"a":20.6,"b":19.4,"c":20.4,"d":21.2},{"p":"S","x":785,"a":20.2,"b":21.6,"c":19.8,"d":20.0},{"p":"S","x":795,"a":19.2,"b":21.4,"c":20.2,"d":19.4},
      {"p":"S","x":805,"a":16.8,"b":20.6,"c":21.0,"d":20.6},{"p":"S","x":815,"a":19.2,"b":20.0,"c":21.2,"d":21.6},{"p":"S","x":825,"a":21.0,"b":20.4,"c":19.2,"d":21.8},{"p":"S","x":835,"a":20.6,"b":20.8,"c":19.8,"d":19.2},{"p":"S","x":845,"a":20.0,"b":21.2,"c":20.6,"d":20.2},
      {"p":"S","x":855,"a":20.6,"b":21.6,"c":21.0,"d":20.8},{"p":"S","x":865,"a":21.4,"b":19.4,"c":20.6,"d":20.6},{"p":"S","x":875,"a":19.6,"b":20.0,"c":20.0,"d":20.2},{"p":"S","x":885,"a":20.4,"b":20.6,"c":20.4,"d":20.6},{"p":"S","x":895,"a":20.2,"b":21.0,"c":21.6,"d":21.2},
      {"p":"S","x":905,"a":20.6,"b":21.2,"c":21.0,"d":18.8},{"p":"S","x":915,"a":21.2,"b":19.4,"c":19.8,"d":19.4},{"p":"S","x":925,"a":19.6,"b":20.0,"c":20.2,"d":20.2},{"p":"S","x":935,"a":20.2,"b":22.4,"c":20.6,"d":20.8},{"p":"S","x":945,"a":20.0,"b":21.6,"c":21.0,"d":20.6},
      {"p":"S","x":955,"a":20.6,"b":20.4,"c":19.2,"d":19.8},{"p":"S","x":965,"a":21.4,"b":19.8,"c":20.0,"d":20.4},{"p":"S","x":975,"a":19.8,"b":20.2,"c":20.6,"d":21.4},{"p":"S","x":985,"a":21.6,"b":21.2,"c":20.8,"d":20.2},{"p":"S","x":995,"a":22.0,"b":20.8,"c":21.0,"d":19.2}
    ]
  },
  "concat": [
    {
      "title": "Intercept", "width": 561, "height": 132,
      "data": {"name": "kde"},
      "transform": [{"filter": {"field": "p", "equal": "I"}}, {"fold": ["a", "b", "c", "d"], "as": ["k", "v"]}, {"filter": "isValid(datum.v)"}],
      "mark": {"type": "line", "interpolate": "monotone", "strokeWidth": 1.6},
      "encoding": {
        "x": {"field": "x", "type": "quantitative", "scale": {"domain": [40.4, 141.6], "nice": false, "zero": false}, "axis": {"values": [60, 80, 100, 120, 140], "format": "d"}},
        "y": {"field": "v", "type": "quantitative", "scale": {"domain": [-0.055, 1.05], "nice": false}, "axis": null},
        "color": {"field": "k", "type": "nominal", "legend": null}
      }
    },
    {
      "title": "Intercept", "width": 559, "height": 132,
      "data": {"name": "trace"},
      "transform": [{"filter": {"field": "p", "equal": "I"}}, {"fold": ["a", "b", "c", "d"], "as": ["k", "v"]}],
      "mark": {"type": "line", "strokeWidth": 1.8, "opacity": 0.5},
      "encoding": {
        "x": {"field": "x", "type": "quantitative", "scale": {"domain": [0, 999], "nice": false}, "axis": {"values": [0, 200, 400, 600, 800], "format": "d"}},
        "y": {"field": "v", "type": "quantitative", "scale": {"domain": [40.4, 141.6], "nice": false, "zero": false}, "axis": {"values": [50, 100], "format": "d"}},
        "color": {"field": "k", "type": "nominal", "legend": null}
      }
    },
    {
      "title": "product", "width": 561, "height": 132,
      "data": {"name": "kde"},
      "transform": [{"filter": {"field": "p", "equal": "P"}}, {"fold": ["a", "b", "c", "d"], "as": ["k", "v"]}, {"filter": "isValid(datum.v)"}],
      "mark": {"type": "line", "interpolate": "monotone", "strokeWidth": 1.6},
      "encoding": {
        "x": {"field": "x", "type": "quantitative", "scale": {"domain": [-3.78, -0.86], "nice": false, "zero": false}, "axis": {"values": [-3.5, -3, -2.5, -2, -1.5, -1], "format": ".1f"}},
        "y": {"field": "v", "type": "quantitative", "scale": {"domain": [-0.055, 1.05], "nice": false}, "axis": null},
        "color": {"field": "k", "type": "nominal", "legend": null}
      }
    },
    {
      "title": "product", "width": 559, "height": 132,
      "data": {"name": "trace"},
      "transform": [{"filter": {"field": "p", "equal": "P"}}, {"fold": ["a", "b", "c", "d"], "as": ["k", "v"]}],
      "mark": {"type": "line", "strokeWidth": 1.8, "opacity": 0.5},
      "encoding": {
        "x": {"field": "x", "type": "quantitative", "scale": {"domain": [0, 999], "nice": false}, "axis": {"values": [0, 200, 400, 600, 800], "format": "d"}},
        "y": {"field": "v", "type": "quantitative", "scale": {"domain": [-3.78, -0.86], "nice": false, "zero": false}, "axis": {"values": [-3, -2, -1], "format": "d"}},
        "color": {"field": "k", "type": "nominal", "legend": null}
      }
    },
    {
      "title": "clerk", "width": 561, "height": 132,
      "data": {"name": "kde"},
      "transform": [{"filter": {"field": "p", "equal": "C"}}, {"fold": ["a", "b", "c", "d"], "as": ["k", "v"]}, {"filter": "isValid(datum.v)"}],
      "mark": {"type": "line", "interpolate": "monotone", "strokeWidth": 1.6},
      "encoding": {
        "x": {"field": "x", "type": "quantitative", "scale": {"domain": [-2.93, 15.23], "nice": false, "zero": false}, "axis": {"values": [-2.5, 0, 2.5, 5, 7.5, 10, 12.5, 15], "format": ".1f"}},
        "y": {"field": "v", "type": "quantitative", "scale": {"domain": [-0.055, 1.05], "nice": false}, "axis": null},
        "color": {"field": "k", "type": "nominal", "legend": null}
      }
    },
    {
      "title": "clerk", "width": 559, "height": 132,
      "data": {"name": "trace"},
      "transform": [{"filter": {"field": "p", "equal": "C"}}, {"fold": ["a", "b", "c", "d"], "as": ["k", "v"]}],
      "mark": {"type": "line", "strokeWidth": 1.8, "opacity": 0.5},
      "encoding": {
        "x": {"field": "x", "type": "quantitative", "scale": {"domain": [0, 999], "nice": false}, "axis": {"values": [0, 200, 400, 600, 800], "format": "d"}},
        "y": {"field": "v", "type": "quantitative", "scale": {"domain": [-2.93, 15.23], "nice": false, "zero": false}, "axis": {"values": [0, 5, 10, 15], "format": "d"}},
        "color": {"field": "k", "type": "nominal", "legend": null}
      }
    },
    {
      "title": "product:clerk", "width": 561, "height": 132,
      "data": {"name": "kde"},
      "transform": [{"filter": {"field": "p", "equal": "PC"}}, {"fold": ["a", "b", "c", "d"], "as": ["k", "v"]}, {"filter": "isValid(datum.v)"}],
      "mark": {"type": "line", "interpolate": "monotone", "strokeWidth": 1.6},
      "encoding": {
        "x": {"field": "x", "type": "quantitative", "scale": {"domain": [0.788, 1.355], "nice": false, "zero": false}, "axis": {"values": [0.8, 0.9, 1.0, 1.1, 1.2, 1.3], "format": ".1f"}},
        "y": {"field": "v", "type": "quantitative", "scale": {"domain": [-0.055, 1.05], "nice": false}, "axis": null},
        "color": {"field": "k", "type": "nominal", "legend": null}
      }
    },
    {
      "title": "product:clerk", "width": 559, "height": 132,
      "data": {"name": "trace"},
      "transform": [{"filter": {"field": "p", "equal": "PC"}}, {"fold": ["a", "b", "c", "d"], "as": ["k", "v"]}],
      "mark": {"type": "line", "strokeWidth": 1.8, "opacity": 0.5},
      "encoding": {
        "x": {"field": "x", "type": "quantitative", "scale": {"domain": [0, 999], "nice": false}, "axis": {"values": [0, 200, 400, 600, 800], "format": "d"}},
        "y": {"field": "v", "type": "quantitative", "scale": {"domain": [0.788, 1.355], "nice": false, "zero": false}, "axis": {"values": [0.8, 1.0, 1.2], "format": ".1f"}},
        "color": {"field": "k", "type": "nominal", "legend": null}
      }
    },
    {
      "title": "sigma", "width": 561, "height": 132,
      "data": {"name": "kde"},
      "transform": [{"filter": {"field": "p", "equal": "S"}}, {"fold": ["a", "b", "c", "d"], "as": ["k", "v"]}, {"filter": "isValid(datum.v)"}],
      "mark": {"type": "line", "interpolate": "monotone", "strokeWidth": 1.6},
      "encoding": {
        "x": {"field": "x", "type": "quantitative", "scale": {"domain": [15.45, 26.85], "nice": false, "zero": false}, "axis": {"values": [16, 18, 20, 22, 24, 26], "format": "d"}},
        "y": {"field": "v", "type": "quantitative", "scale": {"domain": [-0.055, 1.05], "nice": false}, "axis": null},
        "color": {"field": "k", "type": "nominal", "legend": null}
      }
    },
    {
      "title": "sigma", "width": 559, "height": 132,
      "data": {"name": "trace"},
      "transform": [{"filter": {"field": "p", "equal": "S"}}, {"fold": ["a", "b", "c", "d"], "as": ["k", "v"]}],
      "mark": {"type": "line", "strokeWidth": 1.8, "opacity": 0.5},
      "encoding": {
        "x": {"field": "x", "type": "quantitative", "scale": {"domain": [0, 999], "nice": false}, "axis": {"values": [0, 200, 400, 600, 800], "format": "d"}},
        "y": {"field": "v", "type": "quantitative", "scale": {"domain": [15.45, 26.85], "nice": false, "zero": false}, "axis": {"values": [20, 25], "format": "d"}},
        "color": {"field": "k", "type": "nominal", "legend": null}
      }
    }
  ],
  "config": {
    "view": {"fill": "#eaeaf2", "stroke": null},
    "range": {"category": ["#4c72b0", "#dd8452", "#55a868", "#c44e52"]},
    "axis": {"grid": true, "gridColor": "white", "gridWidth": 1.3, "domain": false, "ticks": false, "labelFont": "DejaVu Sans", "labelFontSize": 13.5, "labelColor": "#333333", "title": null},
    "axisX": {"labelPadding": 13},
    "axisY": {"labelPadding": 12},
    "title": {"font": "DejaVu Sans", "fontSize": 15, "fontWeight": "normal", "color": "#333333", "offset": 7}
  }
}
